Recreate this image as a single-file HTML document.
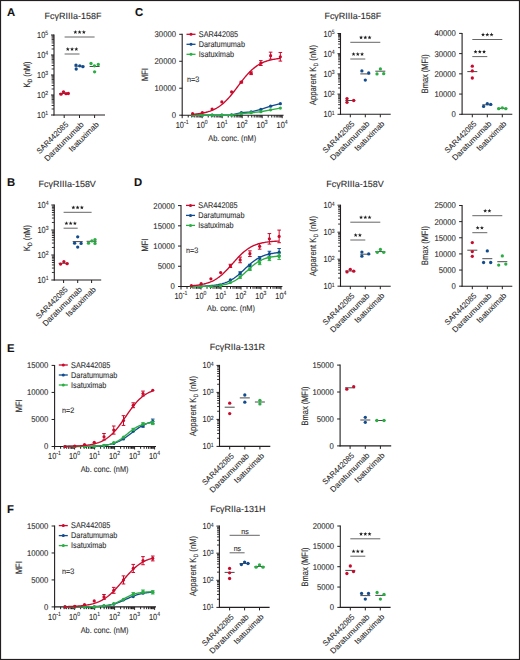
<!DOCTYPE html>
<html><head><meta charset="utf-8"><style>
html,body{margin:0;padding:0;background:#fff;}
body{width:520px;height:660px;overflow:hidden;}
svg{display:block;font-family:"Liberation Sans",sans-serif;text-rendering:geometricPrecision;}
text{stroke:#2b2b2b;stroke-width:0.1px;paint-order:stroke;}
</style></head><body>
<svg width="520" height="660" viewBox="0 0 520 660">
<rect x="0" y="0" width="520" height="660" fill="#fff"/>
<text transform="translate(6.90 15.90)" font-size="11.3" text-anchor="start" fill="#111" font-weight="bold">A</text>
<text transform="translate(135.00 15.70)" font-size="11.3" text-anchor="start" fill="#111" font-weight="bold">C</text>
<text transform="translate(6.90 186.00)" font-size="11.3" text-anchor="start" fill="#111" font-weight="bold">B</text>
<text transform="translate(134.00 186.20)" font-size="11.3" text-anchor="start" fill="#111" font-weight="bold">D</text>
<text transform="translate(7.00 351.50)" font-size="11.3" text-anchor="start" fill="#111" font-weight="bold">E</text>
<text transform="translate(7.00 513.00)" font-size="11.3" text-anchor="start" fill="#111" font-weight="bold">F</text>
<text transform="translate(73.00 19.10) scale(1.01 1)" font-size="8.9" text-anchor="middle" fill="#2b2b2b" font-weight="normal">FcγRIIIa-158F</text>
<line x1="54.00" y1="34.50" x2="54.00" y2="115.50" stroke="#231f20" stroke-width="1.1"/>
<line x1="51.00" y1="115.00" x2="54.00" y2="115.00" stroke="#231f20" stroke-width="1"/>
<text transform="translate(48.20 118.00) scale(0.84 1)" font-size="8.8" text-anchor="end" fill="#2b2b2b">10<tspan font-size="6.1" dy="-2.6">1</tspan></text>
<line x1="51.60" y1="108.98" x2="54.00" y2="108.98" stroke="#231f20" stroke-width="0.9"/>
<line x1="51.60" y1="105.46" x2="54.00" y2="105.46" stroke="#231f20" stroke-width="0.9"/>
<line x1="51.60" y1="102.96" x2="54.00" y2="102.96" stroke="#231f20" stroke-width="0.9"/>
<line x1="51.60" y1="101.02" x2="54.00" y2="101.02" stroke="#231f20" stroke-width="0.9"/>
<line x1="51.60" y1="99.44" x2="54.00" y2="99.44" stroke="#231f20" stroke-width="0.9"/>
<line x1="51.60" y1="98.10" x2="54.00" y2="98.10" stroke="#231f20" stroke-width="0.9"/>
<line x1="51.60" y1="96.94" x2="54.00" y2="96.94" stroke="#231f20" stroke-width="0.9"/>
<line x1="51.60" y1="95.92" x2="54.00" y2="95.92" stroke="#231f20" stroke-width="0.9"/>
<line x1="51.00" y1="95.00" x2="54.00" y2="95.00" stroke="#231f20" stroke-width="1"/>
<text transform="translate(48.20 98.00) scale(0.84 1)" font-size="8.8" text-anchor="end" fill="#2b2b2b">10<tspan font-size="6.1" dy="-2.6">2</tspan></text>
<line x1="51.60" y1="88.98" x2="54.00" y2="88.98" stroke="#231f20" stroke-width="0.9"/>
<line x1="51.60" y1="85.46" x2="54.00" y2="85.46" stroke="#231f20" stroke-width="0.9"/>
<line x1="51.60" y1="82.96" x2="54.00" y2="82.96" stroke="#231f20" stroke-width="0.9"/>
<line x1="51.60" y1="81.02" x2="54.00" y2="81.02" stroke="#231f20" stroke-width="0.9"/>
<line x1="51.60" y1="79.44" x2="54.00" y2="79.44" stroke="#231f20" stroke-width="0.9"/>
<line x1="51.60" y1="78.10" x2="54.00" y2="78.10" stroke="#231f20" stroke-width="0.9"/>
<line x1="51.60" y1="76.94" x2="54.00" y2="76.94" stroke="#231f20" stroke-width="0.9"/>
<line x1="51.60" y1="75.92" x2="54.00" y2="75.92" stroke="#231f20" stroke-width="0.9"/>
<line x1="51.00" y1="75.00" x2="54.00" y2="75.00" stroke="#231f20" stroke-width="1"/>
<text transform="translate(48.20 78.00) scale(0.84 1)" font-size="8.8" text-anchor="end" fill="#2b2b2b">10<tspan font-size="6.1" dy="-2.6">3</tspan></text>
<line x1="51.60" y1="68.98" x2="54.00" y2="68.98" stroke="#231f20" stroke-width="0.9"/>
<line x1="51.60" y1="65.46" x2="54.00" y2="65.46" stroke="#231f20" stroke-width="0.9"/>
<line x1="51.60" y1="62.96" x2="54.00" y2="62.96" stroke="#231f20" stroke-width="0.9"/>
<line x1="51.60" y1="61.02" x2="54.00" y2="61.02" stroke="#231f20" stroke-width="0.9"/>
<line x1="51.60" y1="59.44" x2="54.00" y2="59.44" stroke="#231f20" stroke-width="0.9"/>
<line x1="51.60" y1="58.10" x2="54.00" y2="58.10" stroke="#231f20" stroke-width="0.9"/>
<line x1="51.60" y1="56.94" x2="54.00" y2="56.94" stroke="#231f20" stroke-width="0.9"/>
<line x1="51.60" y1="55.92" x2="54.00" y2="55.92" stroke="#231f20" stroke-width="0.9"/>
<line x1="51.00" y1="55.00" x2="54.00" y2="55.00" stroke="#231f20" stroke-width="1"/>
<text transform="translate(48.20 58.00) scale(0.84 1)" font-size="8.8" text-anchor="end" fill="#2b2b2b">10<tspan font-size="6.1" dy="-2.6">4</tspan></text>
<line x1="51.60" y1="48.98" x2="54.00" y2="48.98" stroke="#231f20" stroke-width="0.9"/>
<line x1="51.60" y1="45.46" x2="54.00" y2="45.46" stroke="#231f20" stroke-width="0.9"/>
<line x1="51.60" y1="42.96" x2="54.00" y2="42.96" stroke="#231f20" stroke-width="0.9"/>
<line x1="51.60" y1="41.02" x2="54.00" y2="41.02" stroke="#231f20" stroke-width="0.9"/>
<line x1="51.60" y1="39.44" x2="54.00" y2="39.44" stroke="#231f20" stroke-width="0.9"/>
<line x1="51.60" y1="38.10" x2="54.00" y2="38.10" stroke="#231f20" stroke-width="0.9"/>
<line x1="51.60" y1="36.94" x2="54.00" y2="36.94" stroke="#231f20" stroke-width="0.9"/>
<line x1="51.60" y1="35.92" x2="54.00" y2="35.92" stroke="#231f20" stroke-width="0.9"/>
<line x1="51.00" y1="35.00" x2="54.00" y2="35.00" stroke="#231f20" stroke-width="1"/>
<text transform="translate(48.20 38.00) scale(0.84 1)" font-size="8.8" text-anchor="end" fill="#2b2b2b">10<tspan font-size="6.1" dy="-2.6">5</tspan></text>
<line x1="53.50" y1="115.00" x2="105.00" y2="115.00" stroke="#231f20" stroke-width="1.1"/>
<line x1="64.20" y1="115.00" x2="64.20" y2="118.00" stroke="#231f20" stroke-width="1"/>
<text transform="translate(68.90 125.00) rotate(-45) scale(0.97 1)" font-size="7.9" text-anchor="end" fill="#2b2b2b" font-weight="normal">SAR442085</text>
<line x1="79.50" y1="115.00" x2="79.50" y2="118.00" stroke="#231f20" stroke-width="1"/>
<text transform="translate(84.20 125.00) rotate(-45) scale(1.04 1)" font-size="7.9" text-anchor="end" fill="#2b2b2b" font-weight="normal">Daratumumab</text>
<line x1="94.60" y1="115.00" x2="94.60" y2="118.00" stroke="#231f20" stroke-width="1"/>
<text transform="translate(99.30 125.00) rotate(-45) scale(1.01 1)" font-size="7.9" text-anchor="end" fill="#2b2b2b" font-weight="normal">Isatuximab</text>
<text transform="translate(29.80 74.50) rotate(-90) scale(0.8 1)" font-size="9.3" text-anchor="middle" fill="#2b2b2b">K<tspan font-size="6.32" dy="2">D</tspan><tspan dy="-2"> (nM)</tspan></text>
<line x1="64.60" y1="37.00" x2="94.60" y2="37.00" stroke="#666" stroke-width="1.0"/>
<polygon points="75.35,30.10 75.88,31.47 77.35,31.55 76.21,32.48 76.58,33.90 75.35,33.10 74.12,33.90 74.49,32.48 73.35,31.55 74.82,31.47" fill="#1e1e1e"/>
<polygon points="79.60,30.10 80.13,31.47 81.60,31.55 80.46,32.48 80.83,33.90 79.60,33.10 78.37,33.90 78.74,32.48 77.60,31.55 79.07,31.47" fill="#1e1e1e"/>
<polygon points="83.85,30.10 84.38,31.47 85.85,31.55 84.71,32.48 85.08,33.90 83.85,33.10 82.62,33.90 82.99,32.48 81.85,31.55 83.32,31.47" fill="#1e1e1e"/>
<line x1="64.60" y1="54.00" x2="79.50" y2="54.00" stroke="#666" stroke-width="1.0"/>
<polygon points="67.80,47.10 68.33,48.47 69.80,48.55 68.66,49.48 69.03,50.90 67.80,50.10 66.57,50.90 66.94,49.48 65.80,48.55 67.27,48.47" fill="#1e1e1e"/>
<polygon points="72.05,47.10 72.58,48.47 74.05,48.55 72.91,49.48 73.28,50.90 72.05,50.10 70.82,50.90 71.19,49.48 70.05,48.55 71.52,48.47" fill="#1e1e1e"/>
<polygon points="76.30,47.10 76.83,48.47 78.30,48.55 77.16,49.48 77.53,50.90 76.30,50.10 75.07,50.90 75.44,49.48 74.30,48.55 75.77,48.47" fill="#1e1e1e"/>
<line x1="59.20" y1="93.50" x2="69.20" y2="93.50" stroke="#4a4a4a" stroke-width="1"/>
<circle cx="61.00" cy="94.20" r="1.65" fill="#c90a2c"/>
<circle cx="63.50" cy="91.80" r="1.65" fill="#c90a2c"/>
<circle cx="66.00" cy="93.70" r="1.65" fill="#c90a2c"/>
<circle cx="68.30" cy="93.50" r="1.65" fill="#c90a2c"/>
<line x1="74.50" y1="66.20" x2="84.50" y2="66.20" stroke="#4a4a4a" stroke-width="1"/>
<circle cx="76.00" cy="65.10" r="1.65" fill="#114c8e"/>
<circle cx="76.20" cy="69.00" r="1.65" fill="#114c8e"/>
<circle cx="79.80" cy="65.80" r="1.65" fill="#114c8e"/>
<circle cx="82.90" cy="66.70" r="1.65" fill="#114c8e"/>
<line x1="89.60" y1="66.50" x2="99.60" y2="66.50" stroke="#4a4a4a" stroke-width="1"/>
<circle cx="91.00" cy="63.50" r="1.65" fill="#2aae43"/>
<circle cx="94.40" cy="65.80" r="1.65" fill="#2aae43"/>
<circle cx="98.30" cy="64.40" r="1.65" fill="#2aae43"/>
<circle cx="94.60" cy="71.80" r="1.65" fill="#2aae43"/>
<text transform="translate(67.20 187.00) scale(1.01 1)" font-size="8.9" text-anchor="middle" fill="#2b2b2b" font-weight="normal">FcγRIIIa-158V</text>
<line x1="54.30" y1="204.50" x2="54.30" y2="280.50" stroke="#231f20" stroke-width="1.1"/>
<line x1="51.30" y1="280.00" x2="54.30" y2="280.00" stroke="#231f20" stroke-width="1"/>
<text transform="translate(48.50 283.00) scale(0.84 1)" font-size="8.8" text-anchor="end" fill="#2b2b2b">10<tspan font-size="6.1" dy="-2.6">1</tspan></text>
<line x1="51.90" y1="272.47" x2="54.30" y2="272.47" stroke="#231f20" stroke-width="0.9"/>
<line x1="51.90" y1="268.07" x2="54.30" y2="268.07" stroke="#231f20" stroke-width="0.9"/>
<line x1="51.90" y1="264.95" x2="54.30" y2="264.95" stroke="#231f20" stroke-width="0.9"/>
<line x1="51.90" y1="262.53" x2="54.30" y2="262.53" stroke="#231f20" stroke-width="0.9"/>
<line x1="51.90" y1="260.55" x2="54.30" y2="260.55" stroke="#231f20" stroke-width="0.9"/>
<line x1="51.90" y1="258.87" x2="54.30" y2="258.87" stroke="#231f20" stroke-width="0.9"/>
<line x1="51.90" y1="257.42" x2="54.30" y2="257.42" stroke="#231f20" stroke-width="0.9"/>
<line x1="51.90" y1="256.14" x2="54.30" y2="256.14" stroke="#231f20" stroke-width="0.9"/>
<line x1="51.30" y1="255.00" x2="54.30" y2="255.00" stroke="#231f20" stroke-width="1"/>
<text transform="translate(48.50 258.00) scale(0.84 1)" font-size="8.8" text-anchor="end" fill="#2b2b2b">10<tspan font-size="6.1" dy="-2.6">2</tspan></text>
<line x1="51.90" y1="247.47" x2="54.30" y2="247.47" stroke="#231f20" stroke-width="0.9"/>
<line x1="51.90" y1="243.07" x2="54.30" y2="243.07" stroke="#231f20" stroke-width="0.9"/>
<line x1="51.90" y1="239.95" x2="54.30" y2="239.95" stroke="#231f20" stroke-width="0.9"/>
<line x1="51.90" y1="237.53" x2="54.30" y2="237.53" stroke="#231f20" stroke-width="0.9"/>
<line x1="51.90" y1="235.55" x2="54.30" y2="235.55" stroke="#231f20" stroke-width="0.9"/>
<line x1="51.90" y1="233.87" x2="54.30" y2="233.87" stroke="#231f20" stroke-width="0.9"/>
<line x1="51.90" y1="232.42" x2="54.30" y2="232.42" stroke="#231f20" stroke-width="0.9"/>
<line x1="51.90" y1="231.14" x2="54.30" y2="231.14" stroke="#231f20" stroke-width="0.9"/>
<line x1="51.30" y1="230.00" x2="54.30" y2="230.00" stroke="#231f20" stroke-width="1"/>
<text transform="translate(48.50 233.00) scale(0.84 1)" font-size="8.8" text-anchor="end" fill="#2b2b2b">10<tspan font-size="6.1" dy="-2.6">3</tspan></text>
<line x1="51.90" y1="222.47" x2="54.30" y2="222.47" stroke="#231f20" stroke-width="0.9"/>
<line x1="51.90" y1="218.07" x2="54.30" y2="218.07" stroke="#231f20" stroke-width="0.9"/>
<line x1="51.90" y1="214.95" x2="54.30" y2="214.95" stroke="#231f20" stroke-width="0.9"/>
<line x1="51.90" y1="212.53" x2="54.30" y2="212.53" stroke="#231f20" stroke-width="0.9"/>
<line x1="51.90" y1="210.55" x2="54.30" y2="210.55" stroke="#231f20" stroke-width="0.9"/>
<line x1="51.90" y1="208.87" x2="54.30" y2="208.87" stroke="#231f20" stroke-width="0.9"/>
<line x1="51.90" y1="207.42" x2="54.30" y2="207.42" stroke="#231f20" stroke-width="0.9"/>
<line x1="51.90" y1="206.14" x2="54.30" y2="206.14" stroke="#231f20" stroke-width="0.9"/>
<line x1="51.30" y1="205.00" x2="54.30" y2="205.00" stroke="#231f20" stroke-width="1"/>
<text transform="translate(48.50 208.00) scale(0.84 1)" font-size="8.8" text-anchor="end" fill="#2b2b2b">10<tspan font-size="6.1" dy="-2.6">4</tspan></text>
<line x1="53.80" y1="280.00" x2="101.20" y2="280.00" stroke="#231f20" stroke-width="1.1"/>
<line x1="63.60" y1="280.00" x2="63.60" y2="283.00" stroke="#231f20" stroke-width="1"/>
<text transform="translate(68.30 290.00) rotate(-45) scale(0.97 1)" font-size="7.9" text-anchor="end" fill="#2b2b2b" font-weight="normal">SAR442085</text>
<line x1="77.70" y1="280.00" x2="77.70" y2="283.00" stroke="#231f20" stroke-width="1"/>
<text transform="translate(82.40 290.00) rotate(-45) scale(1.04 1)" font-size="7.9" text-anchor="end" fill="#2b2b2b" font-weight="normal">Daratumumab</text>
<line x1="91.60" y1="280.00" x2="91.60" y2="283.00" stroke="#231f20" stroke-width="1"/>
<text transform="translate(96.30 290.00) rotate(-45) scale(1.01 1)" font-size="7.9" text-anchor="end" fill="#2b2b2b" font-weight="normal">Isatuximab</text>
<text transform="translate(29.80 238.00) rotate(-90) scale(0.8 1)" font-size="9.3" text-anchor="middle" fill="#2b2b2b">K<tspan font-size="6.32" dy="2">D</tspan><tspan dy="-2"> (nM)</tspan></text>
<line x1="63.60" y1="212.30" x2="91.60" y2="212.30" stroke="#666" stroke-width="1.0"/>
<polygon points="73.35,205.40 73.88,206.77 75.35,206.85 74.21,207.78 74.58,209.20 73.35,208.40 72.12,209.20 72.49,207.78 71.35,206.85 72.82,206.77" fill="#1e1e1e"/>
<polygon points="77.60,205.40 78.13,206.77 79.60,206.85 78.46,207.78 78.83,209.20 77.60,208.40 76.37,209.20 76.74,207.78 75.60,206.85 77.07,206.77" fill="#1e1e1e"/>
<polygon points="81.85,205.40 82.38,206.77 83.85,206.85 82.71,207.78 83.08,209.20 81.85,208.40 80.62,209.20 80.99,207.78 79.85,206.85 81.32,206.77" fill="#1e1e1e"/>
<line x1="63.60" y1="228.20" x2="77.70" y2="228.20" stroke="#666" stroke-width="1.0"/>
<polygon points="66.40,221.30 66.93,222.67 68.40,222.75 67.26,223.68 67.63,225.10 66.40,224.30 65.17,225.10 65.54,223.68 64.40,222.75 65.87,222.67" fill="#1e1e1e"/>
<polygon points="70.65,221.30 71.18,222.67 72.65,222.75 71.51,223.68 71.88,225.10 70.65,224.30 69.42,225.10 69.79,223.68 68.65,222.75 70.12,222.67" fill="#1e1e1e"/>
<polygon points="74.90,221.30 75.43,222.67 76.90,222.75 75.76,223.68 76.13,225.10 74.90,224.30 73.67,225.10 74.04,223.68 72.90,222.75 74.37,222.67" fill="#1e1e1e"/>
<line x1="58.60" y1="263.30" x2="68.60" y2="263.30" stroke="#4a4a4a" stroke-width="1"/>
<circle cx="60.60" cy="264.10" r="1.65" fill="#c90a2c"/>
<circle cx="63.90" cy="261.70" r="1.65" fill="#c90a2c"/>
<circle cx="67.10" cy="263.70" r="1.65" fill="#c90a2c"/>
<line x1="72.70" y1="241.60" x2="82.70" y2="241.60" stroke="#4a4a4a" stroke-width="1"/>
<circle cx="77.70" cy="236.80" r="1.65" fill="#114c8e"/>
<circle cx="74.60" cy="243.20" r="1.65" fill="#114c8e"/>
<circle cx="81.10" cy="243.40" r="1.65" fill="#114c8e"/>
<circle cx="77.70" cy="247.10" r="1.65" fill="#114c8e"/>
<line x1="86.60" y1="241.30" x2="96.60" y2="241.30" stroke="#4a4a4a" stroke-width="1"/>
<circle cx="88.50" cy="243.20" r="1.65" fill="#2aae43"/>
<circle cx="91.90" cy="240.90" r="1.65" fill="#2aae43"/>
<circle cx="95.00" cy="239.60" r="1.65" fill="#2aae43"/>
<circle cx="95.00" cy="243.40" r="1.65" fill="#2aae43"/>
<line x1="182.20" y1="33.80" x2="182.20" y2="115.70" stroke="#231f20" stroke-width="1.1"/>
<line x1="179.20" y1="115.20" x2="182.20" y2="115.20" stroke="#231f20" stroke-width="1"/>
<text transform="translate(176.00 118.10) scale(0.92 1)" font-size="8.4" text-anchor="end" fill="#2b2b2b" font-weight="normal">0</text>
<line x1="179.20" y1="88.23" x2="182.20" y2="88.23" stroke="#231f20" stroke-width="1"/>
<text transform="translate(176.00 91.13) scale(0.92 1)" font-size="8.4" text-anchor="end" fill="#2b2b2b" font-weight="normal">10000</text>
<line x1="179.20" y1="61.27" x2="182.20" y2="61.27" stroke="#231f20" stroke-width="1"/>
<text transform="translate(176.00 64.17) scale(0.92 1)" font-size="8.4" text-anchor="end" fill="#2b2b2b" font-weight="normal">20000</text>
<line x1="179.20" y1="34.30" x2="182.20" y2="34.30" stroke="#231f20" stroke-width="1"/>
<text transform="translate(176.00 37.20) scale(0.92 1)" font-size="8.4" text-anchor="end" fill="#2b2b2b" font-weight="normal">30000</text>
<line x1="181.70" y1="115.20" x2="283.60" y2="115.20" stroke="#231f20" stroke-width="1.1"/>
<line x1="182.20" y1="115.20" x2="182.20" y2="118.20" stroke="#231f20" stroke-width="1"/>
<text transform="translate(182.10 128.00) scale(0.84 1)" font-size="8.8" text-anchor="middle" fill="#2b2b2b">10<tspan font-size="6.1" dy="-4.0">-1</tspan></text>
<line x1="188.22" y1="115.20" x2="188.22" y2="117.50" stroke="#231f20" stroke-width="1.0"/>
<line x1="191.74" y1="115.20" x2="191.74" y2="117.50" stroke="#231f20" stroke-width="1.0"/>
<line x1="194.24" y1="115.20" x2="194.24" y2="117.50" stroke="#231f20" stroke-width="1.0"/>
<line x1="196.18" y1="115.20" x2="196.18" y2="117.50" stroke="#231f20" stroke-width="1.0"/>
<line x1="197.76" y1="115.20" x2="197.76" y2="117.50" stroke="#231f20" stroke-width="1.0"/>
<line x1="199.10" y1="115.20" x2="199.10" y2="117.50" stroke="#231f20" stroke-width="1.0"/>
<line x1="200.26" y1="115.20" x2="200.26" y2="117.50" stroke="#231f20" stroke-width="1.0"/>
<line x1="201.28" y1="115.20" x2="201.28" y2="117.50" stroke="#231f20" stroke-width="1.0"/>
<line x1="202.20" y1="115.20" x2="202.20" y2="118.20" stroke="#231f20" stroke-width="1"/>
<text transform="translate(202.10 128.00) scale(0.84 1)" font-size="8.8" text-anchor="middle" fill="#2b2b2b">10<tspan font-size="6.1" dy="-4.0">0</tspan></text>
<line x1="208.22" y1="115.20" x2="208.22" y2="117.50" stroke="#231f20" stroke-width="1.0"/>
<line x1="211.74" y1="115.20" x2="211.74" y2="117.50" stroke="#231f20" stroke-width="1.0"/>
<line x1="214.24" y1="115.20" x2="214.24" y2="117.50" stroke="#231f20" stroke-width="1.0"/>
<line x1="216.18" y1="115.20" x2="216.18" y2="117.50" stroke="#231f20" stroke-width="1.0"/>
<line x1="217.76" y1="115.20" x2="217.76" y2="117.50" stroke="#231f20" stroke-width="1.0"/>
<line x1="219.10" y1="115.20" x2="219.10" y2="117.50" stroke="#231f20" stroke-width="1.0"/>
<line x1="220.26" y1="115.20" x2="220.26" y2="117.50" stroke="#231f20" stroke-width="1.0"/>
<line x1="221.28" y1="115.20" x2="221.28" y2="117.50" stroke="#231f20" stroke-width="1.0"/>
<line x1="222.20" y1="115.20" x2="222.20" y2="118.20" stroke="#231f20" stroke-width="1"/>
<text transform="translate(222.10 128.00) scale(0.84 1)" font-size="8.8" text-anchor="middle" fill="#2b2b2b">10<tspan font-size="6.1" dy="-4.0">1</tspan></text>
<line x1="228.22" y1="115.20" x2="228.22" y2="117.50" stroke="#231f20" stroke-width="1.0"/>
<line x1="231.74" y1="115.20" x2="231.74" y2="117.50" stroke="#231f20" stroke-width="1.0"/>
<line x1="234.24" y1="115.20" x2="234.24" y2="117.50" stroke="#231f20" stroke-width="1.0"/>
<line x1="236.18" y1="115.20" x2="236.18" y2="117.50" stroke="#231f20" stroke-width="1.0"/>
<line x1="237.76" y1="115.20" x2="237.76" y2="117.50" stroke="#231f20" stroke-width="1.0"/>
<line x1="239.10" y1="115.20" x2="239.10" y2="117.50" stroke="#231f20" stroke-width="1.0"/>
<line x1="240.26" y1="115.20" x2="240.26" y2="117.50" stroke="#231f20" stroke-width="1.0"/>
<line x1="241.28" y1="115.20" x2="241.28" y2="117.50" stroke="#231f20" stroke-width="1.0"/>
<line x1="242.20" y1="115.20" x2="242.20" y2="118.20" stroke="#231f20" stroke-width="1"/>
<text transform="translate(242.10 128.00) scale(0.84 1)" font-size="8.8" text-anchor="middle" fill="#2b2b2b">10<tspan font-size="6.1" dy="-4.0">2</tspan></text>
<line x1="248.22" y1="115.20" x2="248.22" y2="117.50" stroke="#231f20" stroke-width="1.0"/>
<line x1="251.74" y1="115.20" x2="251.74" y2="117.50" stroke="#231f20" stroke-width="1.0"/>
<line x1="254.24" y1="115.20" x2="254.24" y2="117.50" stroke="#231f20" stroke-width="1.0"/>
<line x1="256.18" y1="115.20" x2="256.18" y2="117.50" stroke="#231f20" stroke-width="1.0"/>
<line x1="257.76" y1="115.20" x2="257.76" y2="117.50" stroke="#231f20" stroke-width="1.0"/>
<line x1="259.10" y1="115.20" x2="259.10" y2="117.50" stroke="#231f20" stroke-width="1.0"/>
<line x1="260.26" y1="115.20" x2="260.26" y2="117.50" stroke="#231f20" stroke-width="1.0"/>
<line x1="261.28" y1="115.20" x2="261.28" y2="117.50" stroke="#231f20" stroke-width="1.0"/>
<line x1="262.20" y1="115.20" x2="262.20" y2="118.20" stroke="#231f20" stroke-width="1"/>
<text transform="translate(262.10 128.00) scale(0.84 1)" font-size="8.8" text-anchor="middle" fill="#2b2b2b">10<tspan font-size="6.1" dy="-4.0">3</tspan></text>
<line x1="268.22" y1="115.20" x2="268.22" y2="117.50" stroke="#231f20" stroke-width="1.0"/>
<line x1="271.74" y1="115.20" x2="271.74" y2="117.50" stroke="#231f20" stroke-width="1.0"/>
<line x1="274.24" y1="115.20" x2="274.24" y2="117.50" stroke="#231f20" stroke-width="1.0"/>
<line x1="276.18" y1="115.20" x2="276.18" y2="117.50" stroke="#231f20" stroke-width="1.0"/>
<line x1="277.76" y1="115.20" x2="277.76" y2="117.50" stroke="#231f20" stroke-width="1.0"/>
<line x1="279.10" y1="115.20" x2="279.10" y2="117.50" stroke="#231f20" stroke-width="1.0"/>
<line x1="280.26" y1="115.20" x2="280.26" y2="117.50" stroke="#231f20" stroke-width="1.0"/>
<line x1="281.28" y1="115.20" x2="281.28" y2="117.50" stroke="#231f20" stroke-width="1.0"/>
<line x1="282.20" y1="115.20" x2="282.20" y2="118.20" stroke="#231f20" stroke-width="1"/>
<text transform="translate(282.10 128.00) scale(0.84 1)" font-size="8.8" text-anchor="middle" fill="#2b2b2b">10<tspan font-size="6.1" dy="-4.0">4</tspan></text>
<text transform="translate(232.20 141.00) scale(0.88 1)" font-size="8.4" text-anchor="middle" fill="#2b2b2b" font-weight="normal">Ab. conc. (nM)</text>
<polyline points="192.60,115.20 202.35,115.20 212.10,115.20 221.85,115.07 231.60,114.80 241.35,112.71 251.10,111.90 260.85,109.41 270.60,106.21 280.35,103.71" fill="none" stroke="#114c8e" stroke-width="1.35"/>
<circle cx="192.60" cy="115.20" r="1.6" fill="#114c8e"/>
<circle cx="202.35" cy="115.20" r="1.6" fill="#114c8e"/>
<circle cx="212.10" cy="115.20" r="1.6" fill="#114c8e"/>
<circle cx="221.85" cy="115.07" r="1.6" fill="#114c8e"/>
<circle cx="231.60" cy="114.80" r="1.6" fill="#114c8e"/>
<circle cx="241.35" cy="112.71" r="1.6" fill="#114c8e"/>
<circle cx="251.10" cy="111.90" r="1.6" fill="#114c8e"/>
<circle cx="260.85" cy="109.41" r="1.6" fill="#114c8e"/>
<circle cx="270.60" cy="106.21" r="1.6" fill="#114c8e"/>
<circle cx="280.35" cy="103.71" r="1.6" fill="#114c8e"/>
<polyline points="192.60,115.20 202.35,115.20 212.10,115.20 221.85,115.20 231.60,115.20 241.35,113.70 251.10,112.71 260.85,111.71 270.60,109.81 280.35,108.11" fill="none" stroke="#2aae43" stroke-width="1.35"/>
<circle cx="192.60" cy="115.20" r="1.6" fill="#2aae43"/>
<circle cx="202.35" cy="115.20" r="1.6" fill="#2aae43"/>
<circle cx="212.10" cy="115.20" r="1.6" fill="#2aae43"/>
<circle cx="221.85" cy="115.20" r="1.6" fill="#2aae43"/>
<circle cx="231.60" cy="115.20" r="1.6" fill="#2aae43"/>
<circle cx="241.35" cy="113.70" r="1.6" fill="#2aae43"/>
<circle cx="251.10" cy="112.71" r="1.6" fill="#2aae43"/>
<circle cx="260.85" cy="111.71" r="1.6" fill="#2aae43"/>
<circle cx="270.60" cy="109.81" r="1.6" fill="#2aae43"/>
<circle cx="280.35" cy="108.11" r="1.6" fill="#2aae43"/>
<polyline points="192.20,114.36 193.20,114.28 194.20,114.19 195.20,114.10 196.20,113.99 197.20,113.88 198.20,113.75 199.20,113.62 200.20,113.47 201.20,113.31 202.20,113.13 203.20,112.94 204.20,112.73 205.20,112.50 206.20,112.26 207.20,111.99 208.20,111.70 209.20,111.38 210.20,111.04 211.20,110.67 212.20,110.27 213.20,109.84 214.20,109.38 215.20,108.87 216.20,108.34 217.20,107.76 218.20,107.14 219.20,106.48 220.20,105.78 221.20,105.03 222.20,104.23 223.20,103.39 224.20,102.50 225.20,101.56 226.20,100.58 227.20,99.55 228.20,98.47 229.20,97.36 230.20,96.20 231.20,95.00 232.20,93.77 233.20,92.52 234.20,91.23 235.20,89.93 236.20,88.61 237.20,87.28 238.20,85.94 239.20,84.61 240.20,83.28 241.20,81.97 242.20,80.67 243.20,79.40 244.20,78.15 245.20,76.94 246.20,75.76 247.20,74.61 248.20,73.51 249.20,72.46 250.20,71.45 251.20,70.48 252.20,69.56 253.20,68.69 254.20,67.87 255.20,67.09 256.20,66.36 257.20,65.67 258.20,65.03 259.20,64.43 260.20,63.87 261.20,63.34 262.20,62.86 263.20,62.40 264.20,61.99 265.20,61.60 266.20,61.24 267.20,60.91 268.20,60.60 269.20,60.32 270.20,60.06 271.20,59.82 272.20,59.60 273.20,59.40 274.20,59.22 275.20,59.05 276.20,58.89 277.20,58.75 278.20,58.62 279.20,58.50 280.20,58.39" fill="none" stroke="#c90a2c" stroke-width="1.35"/>
<circle cx="192.60" cy="113.70" r="1.6" fill="#c90a2c"/>
<circle cx="202.35" cy="112.60" r="1.6" fill="#c90a2c"/>
<circle cx="212.10" cy="109.01" r="1.6" fill="#c90a2c"/>
<circle cx="221.85" cy="101.92" r="1.6" fill="#c90a2c"/>
<circle cx="231.60" cy="91.93" r="1.6" fill="#c90a2c"/>
<line x1="241.35" y1="81.33" x2="241.35" y2="82.95" stroke="#c90a2c" stroke-width="1.0"/>
<line x1="239.55" y1="81.33" x2="243.15" y2="81.33" stroke="#c90a2c" stroke-width="1.0"/>
<line x1="239.55" y1="82.95" x2="243.15" y2="82.95" stroke="#c90a2c" stroke-width="1.0"/>
<circle cx="241.35" cy="82.14" r="1.6" fill="#c90a2c"/>
<line x1="251.10" y1="71.91" x2="251.10" y2="74.60" stroke="#c90a2c" stroke-width="1.0"/>
<line x1="249.30" y1="71.91" x2="252.90" y2="71.91" stroke="#c90a2c" stroke-width="1.0"/>
<line x1="249.30" y1="74.60" x2="252.90" y2="74.60" stroke="#c90a2c" stroke-width="1.0"/>
<circle cx="251.10" cy="73.25" r="1.6" fill="#c90a2c"/>
<line x1="260.85" y1="60.64" x2="260.85" y2="65.49" stroke="#c90a2c" stroke-width="1.0"/>
<line x1="259.05" y1="60.64" x2="262.65" y2="60.64" stroke="#c90a2c" stroke-width="1.0"/>
<line x1="259.05" y1="65.49" x2="262.65" y2="65.49" stroke="#c90a2c" stroke-width="1.0"/>
<circle cx="260.85" cy="63.07" r="1.6" fill="#c90a2c"/>
<line x1="270.60" y1="52.17" x2="270.60" y2="59.18" stroke="#c90a2c" stroke-width="1.0"/>
<line x1="268.80" y1="52.17" x2="272.40" y2="52.17" stroke="#c90a2c" stroke-width="1.0"/>
<line x1="268.80" y1="59.18" x2="272.40" y2="59.18" stroke="#c90a2c" stroke-width="1.0"/>
<circle cx="270.60" cy="55.67" r="1.6" fill="#c90a2c"/>
<line x1="280.35" y1="52.46" x2="280.35" y2="61.09" stroke="#c90a2c" stroke-width="1.0"/>
<line x1="278.55" y1="52.46" x2="282.15" y2="52.46" stroke="#c90a2c" stroke-width="1.0"/>
<line x1="278.55" y1="61.09" x2="282.15" y2="61.09" stroke="#c90a2c" stroke-width="1.0"/>
<circle cx="280.35" cy="56.77" r="1.6" fill="#c90a2c"/>
<line x1="186.50" y1="34.30" x2="195.50" y2="34.30" stroke="#c90a2c" stroke-width="1.3"/>
<circle cx="191.00" cy="34.30" r="1.5" fill="#c90a2c"/>
<text transform="translate(198.80 36.90) scale(0.87 1)" font-size="8.4" text-anchor="start" fill="#2b2b2b" font-weight="normal">SAR442085</text>
<line x1="186.50" y1="44.30" x2="195.50" y2="44.30" stroke="#114c8e" stroke-width="1.3"/>
<circle cx="191.00" cy="44.30" r="1.5" fill="#114c8e"/>
<text transform="translate(198.80 46.90) scale(0.87 1)" font-size="8.4" text-anchor="start" fill="#2b2b2b" font-weight="normal">Daratumumab</text>
<line x1="186.50" y1="54.30" x2="195.50" y2="54.30" stroke="#2aae43" stroke-width="1.3"/>
<circle cx="191.00" cy="54.30" r="1.5" fill="#2aae43"/>
<text transform="translate(198.80 56.90) scale(0.87 1)" font-size="8.4" text-anchor="start" fill="#2b2b2b" font-weight="normal">Isatuximab</text>
<text transform="translate(187.00 82.00) scale(0.92 1)" font-size="7.9" text-anchor="start" fill="#2b2b2b" font-weight="normal">n=3</text>
<text transform="translate(147.50 74.50) rotate(-90) scale(0.8 1)" font-size="9.3" text-anchor="middle" fill="#2b2b2b" font-weight="normal">MFI</text>
<text transform="translate(352.80 19.10) scale(1.01 1)" font-size="8.9" text-anchor="middle" fill="#2b2b2b" font-weight="normal">FcγRIIIa-158F</text>
<line x1="340.50" y1="33.00" x2="340.50" y2="114.80" stroke="#231f20" stroke-width="1.1"/>
<line x1="337.50" y1="114.30" x2="340.50" y2="114.30" stroke="#231f20" stroke-width="1"/>
<text transform="translate(334.70 117.30) scale(0.84 1)" font-size="8.8" text-anchor="end" fill="#2b2b2b">10<tspan font-size="6.1" dy="-2.6">1</tspan></text>
<line x1="338.10" y1="108.22" x2="340.50" y2="108.22" stroke="#231f20" stroke-width="0.9"/>
<line x1="338.10" y1="104.66" x2="340.50" y2="104.66" stroke="#231f20" stroke-width="0.9"/>
<line x1="338.10" y1="102.14" x2="340.50" y2="102.14" stroke="#231f20" stroke-width="0.9"/>
<line x1="338.10" y1="100.18" x2="340.50" y2="100.18" stroke="#231f20" stroke-width="0.9"/>
<line x1="338.10" y1="98.58" x2="340.50" y2="98.58" stroke="#231f20" stroke-width="0.9"/>
<line x1="338.10" y1="97.23" x2="340.50" y2="97.23" stroke="#231f20" stroke-width="0.9"/>
<line x1="338.10" y1="96.06" x2="340.50" y2="96.06" stroke="#231f20" stroke-width="0.9"/>
<line x1="338.10" y1="95.02" x2="340.50" y2="95.02" stroke="#231f20" stroke-width="0.9"/>
<line x1="337.50" y1="94.10" x2="340.50" y2="94.10" stroke="#231f20" stroke-width="1"/>
<text transform="translate(334.70 97.10) scale(0.84 1)" font-size="8.8" text-anchor="end" fill="#2b2b2b">10<tspan font-size="6.1" dy="-2.6">2</tspan></text>
<line x1="338.10" y1="88.02" x2="340.50" y2="88.02" stroke="#231f20" stroke-width="0.9"/>
<line x1="338.10" y1="84.46" x2="340.50" y2="84.46" stroke="#231f20" stroke-width="0.9"/>
<line x1="338.10" y1="81.94" x2="340.50" y2="81.94" stroke="#231f20" stroke-width="0.9"/>
<line x1="338.10" y1="79.98" x2="340.50" y2="79.98" stroke="#231f20" stroke-width="0.9"/>
<line x1="338.10" y1="78.38" x2="340.50" y2="78.38" stroke="#231f20" stroke-width="0.9"/>
<line x1="338.10" y1="77.03" x2="340.50" y2="77.03" stroke="#231f20" stroke-width="0.9"/>
<line x1="338.10" y1="75.86" x2="340.50" y2="75.86" stroke="#231f20" stroke-width="0.9"/>
<line x1="338.10" y1="74.82" x2="340.50" y2="74.82" stroke="#231f20" stroke-width="0.9"/>
<line x1="337.50" y1="73.90" x2="340.50" y2="73.90" stroke="#231f20" stroke-width="1"/>
<text transform="translate(334.70 76.90) scale(0.84 1)" font-size="8.8" text-anchor="end" fill="#2b2b2b">10<tspan font-size="6.1" dy="-2.6">3</tspan></text>
<line x1="338.10" y1="67.82" x2="340.50" y2="67.82" stroke="#231f20" stroke-width="0.9"/>
<line x1="338.10" y1="64.26" x2="340.50" y2="64.26" stroke="#231f20" stroke-width="0.9"/>
<line x1="338.10" y1="61.74" x2="340.50" y2="61.74" stroke="#231f20" stroke-width="0.9"/>
<line x1="338.10" y1="59.78" x2="340.50" y2="59.78" stroke="#231f20" stroke-width="0.9"/>
<line x1="338.10" y1="58.18" x2="340.50" y2="58.18" stroke="#231f20" stroke-width="0.9"/>
<line x1="338.10" y1="56.83" x2="340.50" y2="56.83" stroke="#231f20" stroke-width="0.9"/>
<line x1="338.10" y1="55.66" x2="340.50" y2="55.66" stroke="#231f20" stroke-width="0.9"/>
<line x1="338.10" y1="54.62" x2="340.50" y2="54.62" stroke="#231f20" stroke-width="0.9"/>
<line x1="337.50" y1="53.70" x2="340.50" y2="53.70" stroke="#231f20" stroke-width="1"/>
<text transform="translate(334.70 56.70) scale(0.84 1)" font-size="8.8" text-anchor="end" fill="#2b2b2b">10<tspan font-size="6.1" dy="-2.6">4</tspan></text>
<line x1="338.10" y1="47.62" x2="340.50" y2="47.62" stroke="#231f20" stroke-width="0.9"/>
<line x1="338.10" y1="44.06" x2="340.50" y2="44.06" stroke="#231f20" stroke-width="0.9"/>
<line x1="338.10" y1="41.54" x2="340.50" y2="41.54" stroke="#231f20" stroke-width="0.9"/>
<line x1="338.10" y1="39.58" x2="340.50" y2="39.58" stroke="#231f20" stroke-width="0.9"/>
<line x1="338.10" y1="37.98" x2="340.50" y2="37.98" stroke="#231f20" stroke-width="0.9"/>
<line x1="338.10" y1="36.63" x2="340.50" y2="36.63" stroke="#231f20" stroke-width="0.9"/>
<line x1="338.10" y1="35.46" x2="340.50" y2="35.46" stroke="#231f20" stroke-width="0.9"/>
<line x1="338.10" y1="34.42" x2="340.50" y2="34.42" stroke="#231f20" stroke-width="0.9"/>
<line x1="337.50" y1="33.50" x2="340.50" y2="33.50" stroke="#231f20" stroke-width="1"/>
<text transform="translate(334.70 36.50) scale(0.84 1)" font-size="8.8" text-anchor="end" fill="#2b2b2b">10<tspan font-size="6.1" dy="-2.6">5</tspan></text>
<line x1="340.00" y1="114.30" x2="390.70" y2="114.30" stroke="#231f20" stroke-width="1.1"/>
<line x1="350.30" y1="114.30" x2="350.30" y2="117.30" stroke="#231f20" stroke-width="1"/>
<text transform="translate(355.00 124.30) rotate(-45) scale(0.97 1)" font-size="7.9" text-anchor="end" fill="#2b2b2b" font-weight="normal">SAR442085</text>
<line x1="365.30" y1="114.30" x2="365.30" y2="117.30" stroke="#231f20" stroke-width="1"/>
<text transform="translate(370.00 124.30) rotate(-45) scale(1.04 1)" font-size="7.9" text-anchor="end" fill="#2b2b2b" font-weight="normal">Daratumumab</text>
<line x1="380.30" y1="114.30" x2="380.30" y2="117.30" stroke="#231f20" stroke-width="1"/>
<text transform="translate(385.00 124.30) rotate(-45) scale(1.01 1)" font-size="7.9" text-anchor="end" fill="#2b2b2b" font-weight="normal">Isatuximab</text>
<text transform="translate(315.50 75.00) rotate(-90) scale(0.83 1)" font-size="9.3" text-anchor="middle" fill="#2b2b2b">Apparent K<tspan font-size="6.32" dy="2">D</tspan><tspan dy="-2"> (nM)</tspan></text>
<line x1="350.30" y1="42.30" x2="380.30" y2="42.30" stroke="#666" stroke-width="1.0"/>
<polygon points="361.05,35.40 361.58,36.77 363.05,36.85 361.91,37.78 362.28,39.20 361.05,38.40 359.82,39.20 360.19,37.78 359.05,36.85 360.52,36.77" fill="#1e1e1e"/>
<polygon points="365.30,35.40 365.83,36.77 367.30,36.85 366.16,37.78 366.53,39.20 365.30,38.40 364.07,39.20 364.44,37.78 363.30,36.85 364.77,36.77" fill="#1e1e1e"/>
<polygon points="369.55,35.40 370.08,36.77 371.55,36.85 370.41,37.78 370.78,39.20 369.55,38.40 368.32,39.20 368.69,37.78 367.55,36.85 369.02,36.77" fill="#1e1e1e"/>
<line x1="350.30" y1="59.00" x2="365.30" y2="59.00" stroke="#666" stroke-width="1.0"/>
<polygon points="353.55,52.10 354.08,53.47 355.55,53.55 354.41,54.48 354.78,55.90 353.55,55.10 352.32,55.90 352.69,54.48 351.55,53.55 353.02,53.47" fill="#1e1e1e"/>
<polygon points="357.80,52.10 358.33,53.47 359.80,53.55 358.66,54.48 359.03,55.90 357.80,55.10 356.57,55.90 356.94,54.48 355.80,53.55 357.27,53.47" fill="#1e1e1e"/>
<polygon points="362.05,52.10 362.58,53.47 364.05,53.55 362.91,54.48 363.28,55.90 362.05,55.10 360.82,55.90 361.19,54.48 360.05,53.55 361.52,53.47" fill="#1e1e1e"/>
<line x1="345.30" y1="100.50" x2="355.30" y2="100.50" stroke="#4a4a4a" stroke-width="1"/>
<circle cx="347.00" cy="98.60" r="1.65" fill="#c90a2c"/>
<circle cx="347.00" cy="102.30" r="1.65" fill="#c90a2c"/>
<circle cx="353.70" cy="100.50" r="1.65" fill="#c90a2c"/>
<line x1="360.30" y1="73.90" x2="370.30" y2="73.90" stroke="#4a4a4a" stroke-width="1"/>
<circle cx="361.90" cy="70.90" r="1.65" fill="#114c8e"/>
<circle cx="368.70" cy="73.00" r="1.65" fill="#114c8e"/>
<circle cx="365.30" cy="80.10" r="1.65" fill="#114c8e"/>
<line x1="375.30" y1="71.20" x2="385.30" y2="71.20" stroke="#4a4a4a" stroke-width="1"/>
<circle cx="380.40" cy="68.90" r="1.65" fill="#2aae43"/>
<circle cx="377.00" cy="73.90" r="1.65" fill="#2aae43"/>
<circle cx="383.70" cy="73.70" r="1.65" fill="#2aae43"/>
<line x1="462.10" y1="32.90" x2="462.10" y2="114.80" stroke="#231f20" stroke-width="1.1"/>
<line x1="459.10" y1="114.30" x2="462.10" y2="114.30" stroke="#231f20" stroke-width="1"/>
<text transform="translate(455.90 117.20) scale(0.92 1)" font-size="8.4" text-anchor="end" fill="#2b2b2b" font-weight="normal">0</text>
<line x1="459.10" y1="94.07" x2="462.10" y2="94.07" stroke="#231f20" stroke-width="1"/>
<text transform="translate(455.90 96.97) scale(0.92 1)" font-size="8.4" text-anchor="end" fill="#2b2b2b" font-weight="normal">10000</text>
<line x1="459.10" y1="73.85" x2="462.10" y2="73.85" stroke="#231f20" stroke-width="1"/>
<text transform="translate(455.90 76.75) scale(0.92 1)" font-size="8.4" text-anchor="end" fill="#2b2b2b" font-weight="normal">20000</text>
<line x1="459.10" y1="53.62" x2="462.10" y2="53.62" stroke="#231f20" stroke-width="1"/>
<text transform="translate(455.90 56.52) scale(0.92 1)" font-size="8.4" text-anchor="end" fill="#2b2b2b" font-weight="normal">30000</text>
<line x1="459.10" y1="33.40" x2="462.10" y2="33.40" stroke="#231f20" stroke-width="1"/>
<text transform="translate(455.90 36.30) scale(0.92 1)" font-size="8.4" text-anchor="end" fill="#2b2b2b" font-weight="normal">40000</text>
<line x1="461.60" y1="114.30" x2="512.30" y2="114.30" stroke="#231f20" stroke-width="1.1"/>
<line x1="472.30" y1="114.30" x2="472.30" y2="117.30" stroke="#231f20" stroke-width="1"/>
<text transform="translate(477.00 124.30) rotate(-45) scale(0.97 1)" font-size="7.9" text-anchor="end" fill="#2b2b2b" font-weight="normal">SAR442085</text>
<line x1="487.30" y1="114.30" x2="487.30" y2="117.30" stroke="#231f20" stroke-width="1"/>
<text transform="translate(492.00 124.30) rotate(-45) scale(1.04 1)" font-size="7.9" text-anchor="end" fill="#2b2b2b" font-weight="normal">Daratumumab</text>
<line x1="502.30" y1="114.30" x2="502.30" y2="117.30" stroke="#231f20" stroke-width="1"/>
<text transform="translate(507.00 124.30) rotate(-45) scale(1.01 1)" font-size="7.9" text-anchor="end" fill="#2b2b2b" font-weight="normal">Isatuximab</text>
<text transform="translate(428.00 73.80) rotate(-90) scale(0.8 1)" font-size="9.3" text-anchor="middle" fill="#2b2b2b" font-weight="normal">Bmax (MFI)</text>
<line x1="472.30" y1="39.50" x2="502.30" y2="39.50" stroke="#666" stroke-width="1.0"/>
<polygon points="483.05,32.60 483.58,33.97 485.05,34.05 483.91,34.98 484.28,36.40 483.05,35.60 481.82,36.40 482.19,34.98 481.05,34.05 482.52,33.97" fill="#1e1e1e"/>
<polygon points="487.30,32.60 487.83,33.97 489.30,34.05 488.16,34.98 488.53,36.40 487.30,35.60 486.07,36.40 486.44,34.98 485.30,34.05 486.77,33.97" fill="#1e1e1e"/>
<polygon points="491.55,32.60 492.08,33.97 493.55,34.05 492.41,34.98 492.78,36.40 491.55,35.60 490.32,36.40 490.69,34.98 489.55,34.05 491.02,33.97" fill="#1e1e1e"/>
<line x1="472.30" y1="56.60" x2="487.30" y2="56.60" stroke="#666" stroke-width="1.0"/>
<polygon points="475.55,49.70 476.08,51.07 477.55,51.15 476.41,52.08 476.78,53.50 475.55,52.70 474.32,53.50 474.69,52.08 473.55,51.15 475.02,51.07" fill="#1e1e1e"/>
<polygon points="479.80,49.70 480.33,51.07 481.80,51.15 480.66,52.08 481.03,53.50 479.80,52.70 478.57,53.50 478.94,52.08 477.80,51.15 479.27,51.07" fill="#1e1e1e"/>
<polygon points="484.05,49.70 484.58,51.07 486.05,51.15 484.91,52.08 485.28,53.50 484.05,52.70 482.82,53.50 483.19,52.08 482.05,51.15 483.52,51.07" fill="#1e1e1e"/>
<line x1="467.30" y1="71.60" x2="477.30" y2="71.60" stroke="#4a4a4a" stroke-width="1"/>
<circle cx="472.30" cy="66.20" r="1.65" fill="#c90a2c"/>
<circle cx="472.30" cy="70.90" r="1.65" fill="#c90a2c"/>
<circle cx="472.30" cy="78.00" r="1.65" fill="#c90a2c"/>
<line x1="482.30" y1="104.80" x2="492.30" y2="104.80" stroke="#4a4a4a" stroke-width="1"/>
<circle cx="483.60" cy="106.40" r="1.65" fill="#114c8e"/>
<circle cx="487.30" cy="103.70" r="1.65" fill="#114c8e"/>
<circle cx="490.70" cy="104.40" r="1.65" fill="#114c8e"/>
<line x1="497.30" y1="108.40" x2="507.30" y2="108.40" stroke="#4a4a4a" stroke-width="1"/>
<circle cx="498.70" cy="108.70" r="1.65" fill="#2aae43"/>
<circle cx="502.30" cy="107.80" r="1.65" fill="#2aae43"/>
<circle cx="505.80" cy="108.70" r="1.65" fill="#2aae43"/>
<line x1="181.00" y1="205.10" x2="181.00" y2="287.00" stroke="#231f20" stroke-width="1.1"/>
<line x1="178.00" y1="286.50" x2="181.00" y2="286.50" stroke="#231f20" stroke-width="1"/>
<text transform="translate(174.80 289.40) scale(0.92 1)" font-size="8.4" text-anchor="end" fill="#2b2b2b" font-weight="normal">0</text>
<line x1="178.00" y1="266.27" x2="181.00" y2="266.27" stroke="#231f20" stroke-width="1"/>
<text transform="translate(174.80 269.17) scale(0.92 1)" font-size="8.4" text-anchor="end" fill="#2b2b2b" font-weight="normal">5000</text>
<line x1="178.00" y1="246.05" x2="181.00" y2="246.05" stroke="#231f20" stroke-width="1"/>
<text transform="translate(174.80 248.95) scale(0.92 1)" font-size="8.4" text-anchor="end" fill="#2b2b2b" font-weight="normal">10000</text>
<line x1="178.00" y1="225.82" x2="181.00" y2="225.82" stroke="#231f20" stroke-width="1"/>
<text transform="translate(174.80 228.72) scale(0.92 1)" font-size="8.4" text-anchor="end" fill="#2b2b2b" font-weight="normal">15000</text>
<line x1="178.00" y1="205.60" x2="181.00" y2="205.60" stroke="#231f20" stroke-width="1"/>
<text transform="translate(174.80 208.50) scale(0.92 1)" font-size="8.4" text-anchor="end" fill="#2b2b2b" font-weight="normal">20000</text>
<line x1="180.50" y1="286.50" x2="282.40" y2="286.50" stroke="#231f20" stroke-width="1.1"/>
<line x1="181.00" y1="286.50" x2="181.00" y2="289.50" stroke="#231f20" stroke-width="1"/>
<text transform="translate(180.90 299.30) scale(0.84 1)" font-size="8.8" text-anchor="middle" fill="#2b2b2b">10<tspan font-size="6.1" dy="-4.0">-1</tspan></text>
<line x1="187.02" y1="286.50" x2="187.02" y2="288.80" stroke="#231f20" stroke-width="1.0"/>
<line x1="190.54" y1="286.50" x2="190.54" y2="288.80" stroke="#231f20" stroke-width="1.0"/>
<line x1="193.04" y1="286.50" x2="193.04" y2="288.80" stroke="#231f20" stroke-width="1.0"/>
<line x1="194.98" y1="286.50" x2="194.98" y2="288.80" stroke="#231f20" stroke-width="1.0"/>
<line x1="196.56" y1="286.50" x2="196.56" y2="288.80" stroke="#231f20" stroke-width="1.0"/>
<line x1="197.90" y1="286.50" x2="197.90" y2="288.80" stroke="#231f20" stroke-width="1.0"/>
<line x1="199.06" y1="286.50" x2="199.06" y2="288.80" stroke="#231f20" stroke-width="1.0"/>
<line x1="200.08" y1="286.50" x2="200.08" y2="288.80" stroke="#231f20" stroke-width="1.0"/>
<line x1="201.00" y1="286.50" x2="201.00" y2="289.50" stroke="#231f20" stroke-width="1"/>
<text transform="translate(200.90 299.30) scale(0.84 1)" font-size="8.8" text-anchor="middle" fill="#2b2b2b">10<tspan font-size="6.1" dy="-4.0">0</tspan></text>
<line x1="207.02" y1="286.50" x2="207.02" y2="288.80" stroke="#231f20" stroke-width="1.0"/>
<line x1="210.54" y1="286.50" x2="210.54" y2="288.80" stroke="#231f20" stroke-width="1.0"/>
<line x1="213.04" y1="286.50" x2="213.04" y2="288.80" stroke="#231f20" stroke-width="1.0"/>
<line x1="214.98" y1="286.50" x2="214.98" y2="288.80" stroke="#231f20" stroke-width="1.0"/>
<line x1="216.56" y1="286.50" x2="216.56" y2="288.80" stroke="#231f20" stroke-width="1.0"/>
<line x1="217.90" y1="286.50" x2="217.90" y2="288.80" stroke="#231f20" stroke-width="1.0"/>
<line x1="219.06" y1="286.50" x2="219.06" y2="288.80" stroke="#231f20" stroke-width="1.0"/>
<line x1="220.08" y1="286.50" x2="220.08" y2="288.80" stroke="#231f20" stroke-width="1.0"/>
<line x1="221.00" y1="286.50" x2="221.00" y2="289.50" stroke="#231f20" stroke-width="1"/>
<text transform="translate(220.90 299.30) scale(0.84 1)" font-size="8.8" text-anchor="middle" fill="#2b2b2b">10<tspan font-size="6.1" dy="-4.0">1</tspan></text>
<line x1="227.02" y1="286.50" x2="227.02" y2="288.80" stroke="#231f20" stroke-width="1.0"/>
<line x1="230.54" y1="286.50" x2="230.54" y2="288.80" stroke="#231f20" stroke-width="1.0"/>
<line x1="233.04" y1="286.50" x2="233.04" y2="288.80" stroke="#231f20" stroke-width="1.0"/>
<line x1="234.98" y1="286.50" x2="234.98" y2="288.80" stroke="#231f20" stroke-width="1.0"/>
<line x1="236.56" y1="286.50" x2="236.56" y2="288.80" stroke="#231f20" stroke-width="1.0"/>
<line x1="237.90" y1="286.50" x2="237.90" y2="288.80" stroke="#231f20" stroke-width="1.0"/>
<line x1="239.06" y1="286.50" x2="239.06" y2="288.80" stroke="#231f20" stroke-width="1.0"/>
<line x1="240.08" y1="286.50" x2="240.08" y2="288.80" stroke="#231f20" stroke-width="1.0"/>
<line x1="241.00" y1="286.50" x2="241.00" y2="289.50" stroke="#231f20" stroke-width="1"/>
<text transform="translate(240.90 299.30) scale(0.84 1)" font-size="8.8" text-anchor="middle" fill="#2b2b2b">10<tspan font-size="6.1" dy="-4.0">2</tspan></text>
<line x1="247.02" y1="286.50" x2="247.02" y2="288.80" stroke="#231f20" stroke-width="1.0"/>
<line x1="250.54" y1="286.50" x2="250.54" y2="288.80" stroke="#231f20" stroke-width="1.0"/>
<line x1="253.04" y1="286.50" x2="253.04" y2="288.80" stroke="#231f20" stroke-width="1.0"/>
<line x1="254.98" y1="286.50" x2="254.98" y2="288.80" stroke="#231f20" stroke-width="1.0"/>
<line x1="256.56" y1="286.50" x2="256.56" y2="288.80" stroke="#231f20" stroke-width="1.0"/>
<line x1="257.90" y1="286.50" x2="257.90" y2="288.80" stroke="#231f20" stroke-width="1.0"/>
<line x1="259.06" y1="286.50" x2="259.06" y2="288.80" stroke="#231f20" stroke-width="1.0"/>
<line x1="260.08" y1="286.50" x2="260.08" y2="288.80" stroke="#231f20" stroke-width="1.0"/>
<line x1="261.00" y1="286.50" x2="261.00" y2="289.50" stroke="#231f20" stroke-width="1"/>
<text transform="translate(260.90 299.30) scale(0.84 1)" font-size="8.8" text-anchor="middle" fill="#2b2b2b">10<tspan font-size="6.1" dy="-4.0">3</tspan></text>
<line x1="267.02" y1="286.50" x2="267.02" y2="288.80" stroke="#231f20" stroke-width="1.0"/>
<line x1="270.54" y1="286.50" x2="270.54" y2="288.80" stroke="#231f20" stroke-width="1.0"/>
<line x1="273.04" y1="286.50" x2="273.04" y2="288.80" stroke="#231f20" stroke-width="1.0"/>
<line x1="274.98" y1="286.50" x2="274.98" y2="288.80" stroke="#231f20" stroke-width="1.0"/>
<line x1="276.56" y1="286.50" x2="276.56" y2="288.80" stroke="#231f20" stroke-width="1.0"/>
<line x1="277.90" y1="286.50" x2="277.90" y2="288.80" stroke="#231f20" stroke-width="1.0"/>
<line x1="279.06" y1="286.50" x2="279.06" y2="288.80" stroke="#231f20" stroke-width="1.0"/>
<line x1="280.08" y1="286.50" x2="280.08" y2="288.80" stroke="#231f20" stroke-width="1.0"/>
<line x1="281.00" y1="286.50" x2="281.00" y2="289.50" stroke="#231f20" stroke-width="1"/>
<text transform="translate(280.90 299.30) scale(0.84 1)" font-size="8.8" text-anchor="middle" fill="#2b2b2b">10<tspan font-size="6.1" dy="-4.0">4</tspan></text>
<text transform="translate(231.00 311.00) scale(0.88 1)" font-size="8.4" text-anchor="middle" fill="#2b2b2b" font-weight="normal">Ab. conc. (nM)</text>
<polyline points="191.00,286.40 192.00,286.39 193.00,286.38 194.00,286.36 195.00,286.35 196.00,286.33 197.00,286.31 198.00,286.29 199.00,286.26 200.00,286.24 201.00,286.20 202.00,286.17 203.00,286.13 204.00,286.09 205.00,286.05 206.00,285.99 207.00,285.94 208.00,285.87 209.00,285.80 210.00,285.72 211.00,285.64 212.00,285.54 213.00,285.43 214.00,285.31 215.00,285.18 216.00,285.04 217.00,284.87 218.00,284.70 219.00,284.50 220.00,284.28 221.00,284.05 222.00,283.79 223.00,283.50 224.00,283.19 225.00,282.85 226.00,282.47 227.00,282.07 228.00,281.63 229.00,281.15 230.00,280.64 231.00,280.09 232.00,279.50 233.00,278.87 234.00,278.20 235.00,277.49 236.00,276.75 237.00,275.96 238.00,275.15 239.00,274.30 240.00,273.42 241.00,272.52 242.00,271.60 243.00,270.67 244.00,269.72 245.00,268.78 246.00,267.83 247.00,266.90 248.00,265.97 249.00,265.07 250.00,264.19 251.00,263.33 252.00,262.51 253.00,261.72 254.00,260.96 255.00,260.25 256.00,259.57 257.00,258.93 258.00,258.33 259.00,257.78 260.00,257.26 261.00,256.77 262.00,256.33 263.00,255.92 264.00,255.54 265.00,255.19 266.00,254.87 267.00,254.58 268.00,254.31 269.00,254.07 270.00,253.85 271.00,253.65 272.00,253.47 273.00,253.31 274.00,253.16 275.00,253.02 276.00,252.90 277.00,252.79 278.00,252.69 279.00,252.60" fill="none" stroke="#114c8e" stroke-width="1.35"/>
<circle cx="191.40" cy="286.50" r="1.6" fill="#114c8e"/>
<circle cx="201.15" cy="286.50" r="1.6" fill="#114c8e"/>
<circle cx="210.90" cy="286.30" r="1.6" fill="#114c8e"/>
<circle cx="220.65" cy="285.29" r="1.6" fill="#114c8e"/>
<circle cx="230.40" cy="279.87" r="1.6" fill="#114c8e"/>
<line x1="240.15" y1="271.82" x2="240.15" y2="274.24" stroke="#114c8e" stroke-width="1.0"/>
<line x1="238.35" y1="271.82" x2="241.95" y2="271.82" stroke="#114c8e" stroke-width="1.0"/>
<line x1="238.35" y1="274.24" x2="241.95" y2="274.24" stroke="#114c8e" stroke-width="1.0"/>
<circle cx="240.15" cy="273.03" r="1.6" fill="#114c8e"/>
<line x1="249.90" y1="264.29" x2="249.90" y2="266.72" stroke="#114c8e" stroke-width="1.0"/>
<line x1="248.10" y1="264.29" x2="251.70" y2="264.29" stroke="#114c8e" stroke-width="1.0"/>
<line x1="248.10" y1="266.72" x2="251.70" y2="266.72" stroke="#114c8e" stroke-width="1.0"/>
<circle cx="249.90" cy="265.51" r="1.6" fill="#114c8e"/>
<line x1="259.65" y1="256.57" x2="259.65" y2="260.61" stroke="#114c8e" stroke-width="1.0"/>
<line x1="257.85" y1="256.57" x2="261.45" y2="256.57" stroke="#114c8e" stroke-width="1.0"/>
<line x1="257.85" y1="260.61" x2="261.45" y2="260.61" stroke="#114c8e" stroke-width="1.0"/>
<circle cx="259.65" cy="258.59" r="1.6" fill="#114c8e"/>
<line x1="269.40" y1="251.27" x2="269.40" y2="256.12" stroke="#114c8e" stroke-width="1.0"/>
<line x1="267.60" y1="251.27" x2="271.20" y2="251.27" stroke="#114c8e" stroke-width="1.0"/>
<line x1="267.60" y1="256.12" x2="271.20" y2="256.12" stroke="#114c8e" stroke-width="1.0"/>
<circle cx="269.40" cy="253.70" r="1.6" fill="#114c8e"/>
<line x1="279.15" y1="248.56" x2="279.15" y2="255.84" stroke="#114c8e" stroke-width="1.0"/>
<line x1="277.35" y1="248.56" x2="280.95" y2="248.56" stroke="#114c8e" stroke-width="1.0"/>
<line x1="277.35" y1="255.84" x2="280.95" y2="255.84" stroke="#114c8e" stroke-width="1.0"/>
<circle cx="279.15" cy="252.20" r="1.6" fill="#114c8e"/>
<polyline points="191.00,286.47 192.00,286.46 193.00,286.46 194.00,286.45 195.00,286.44 196.00,286.44 197.00,286.43 198.00,286.42 199.00,286.41 200.00,286.40 201.00,286.39 202.00,286.37 203.00,286.35 204.00,286.34 205.00,286.31 206.00,286.29 207.00,286.26 208.00,286.23 209.00,286.20 210.00,286.16 211.00,286.12 212.00,286.07 213.00,286.01 214.00,285.95 215.00,285.88 216.00,285.80 217.00,285.71 218.00,285.61 219.00,285.50 220.00,285.38 221.00,285.24 222.00,285.08 223.00,284.91 224.00,284.71 225.00,284.49 226.00,284.25 227.00,283.98 228.00,283.69 229.00,283.36 230.00,283.00 231.00,282.60 232.00,282.17 233.00,281.69 234.00,281.17 235.00,280.61 236.00,280.01 237.00,279.36 238.00,278.67 239.00,277.93 240.00,277.16 241.00,276.34 242.00,275.49 243.00,274.61 244.00,273.71 245.00,272.78 246.00,271.84 247.00,270.90 248.00,269.96 249.00,269.02 250.00,268.10 251.00,267.20 252.00,266.33 253.00,265.49 254.00,264.68 255.00,263.91 256.00,263.19 257.00,262.51 258.00,261.87 259.00,261.27 260.00,260.73 261.00,260.22 262.00,259.75 263.00,259.33 264.00,258.94 265.00,258.59 266.00,258.27 267.00,257.98 268.00,257.71 269.00,257.48 270.00,257.27 271.00,257.08 272.00,256.91 273.00,256.76 274.00,256.62 275.00,256.50 276.00,256.39 277.00,256.29 278.00,256.21 279.00,256.13" fill="none" stroke="#2aae43" stroke-width="1.35"/>
<circle cx="191.40" cy="286.50" r="1.6" fill="#2aae43"/>
<circle cx="201.15" cy="286.50" r="1.6" fill="#2aae43"/>
<circle cx="210.90" cy="286.50" r="1.6" fill="#2aae43"/>
<circle cx="220.65" cy="285.69" r="1.6" fill="#2aae43"/>
<circle cx="230.40" cy="282.45" r="1.6" fill="#2aae43"/>
<line x1="240.15" y1="275.86" x2="240.15" y2="278.29" stroke="#2aae43" stroke-width="1.0"/>
<line x1="238.35" y1="275.86" x2="241.95" y2="275.86" stroke="#2aae43" stroke-width="1.0"/>
<line x1="238.35" y1="278.29" x2="241.95" y2="278.29" stroke="#2aae43" stroke-width="1.0"/>
<circle cx="240.15" cy="277.08" r="1.6" fill="#2aae43"/>
<line x1="249.90" y1="268.01" x2="249.90" y2="270.44" stroke="#2aae43" stroke-width="1.0"/>
<line x1="248.10" y1="268.01" x2="251.70" y2="268.01" stroke="#2aae43" stroke-width="1.0"/>
<line x1="248.10" y1="270.44" x2="251.70" y2="270.44" stroke="#2aae43" stroke-width="1.0"/>
<circle cx="249.90" cy="269.23" r="1.6" fill="#2aae43"/>
<line x1="259.65" y1="260.61" x2="259.65" y2="264.66" stroke="#2aae43" stroke-width="1.0"/>
<line x1="257.85" y1="260.61" x2="261.45" y2="260.61" stroke="#2aae43" stroke-width="1.0"/>
<line x1="257.85" y1="264.66" x2="261.45" y2="264.66" stroke="#2aae43" stroke-width="1.0"/>
<circle cx="259.65" cy="262.63" r="1.6" fill="#2aae43"/>
<line x1="269.40" y1="256.57" x2="269.40" y2="260.61" stroke="#2aae43" stroke-width="1.0"/>
<line x1="267.60" y1="256.57" x2="271.20" y2="256.57" stroke="#2aae43" stroke-width="1.0"/>
<line x1="267.60" y1="260.61" x2="271.20" y2="260.61" stroke="#2aae43" stroke-width="1.0"/>
<circle cx="269.40" cy="258.59" r="1.6" fill="#2aae43"/>
<line x1="279.15" y1="253.74" x2="279.15" y2="259.40" stroke="#2aae43" stroke-width="1.0"/>
<line x1="277.35" y1="253.74" x2="280.95" y2="253.74" stroke="#2aae43" stroke-width="1.0"/>
<line x1="277.35" y1="259.40" x2="280.95" y2="259.40" stroke="#2aae43" stroke-width="1.0"/>
<circle cx="279.15" cy="256.57" r="1.6" fill="#2aae43"/>
<polyline points="191.00,285.78 192.00,285.71 193.00,285.63 194.00,285.54 195.00,285.44 196.00,285.33 197.00,285.21 198.00,285.08 199.00,284.94 200.00,284.78 201.00,284.61 202.00,284.42 203.00,284.21 204.00,283.99 205.00,283.74 206.00,283.47 207.00,283.17 208.00,282.85 209.00,282.51 210.00,282.13 211.00,281.72 212.00,281.27 213.00,280.79 214.00,280.28 215.00,279.72 216.00,279.13 217.00,278.49 218.00,277.81 219.00,277.09 220.00,276.32 221.00,275.51 222.00,274.65 223.00,273.76 224.00,272.82 225.00,271.85 226.00,270.84 227.00,269.79 228.00,268.72 229.00,267.62 230.00,266.51 231.00,265.38 232.00,264.24 233.00,263.10 234.00,261.96 235.00,260.83 236.00,259.71 237.00,258.61 238.00,257.53 239.00,256.48 240.00,255.46 241.00,254.48 242.00,253.54 243.00,252.63 244.00,251.77 245.00,250.95 246.00,250.17 247.00,249.44 248.00,248.75 249.00,248.11 250.00,247.50 251.00,246.94 252.00,246.42 253.00,245.93 254.00,245.48 255.00,245.06 256.00,244.68 257.00,244.32 258.00,244.00 259.00,243.70 260.00,243.42 261.00,243.17 262.00,242.94 263.00,242.73 264.00,242.54 265.00,242.36 266.00,242.20 267.00,242.05 268.00,241.92 269.00,241.80 270.00,241.69 271.00,241.59 272.00,241.50 273.00,241.42 274.00,241.34 275.00,241.27 276.00,241.21 277.00,241.15 278.00,241.10 279.00,241.06" fill="none" stroke="#c90a2c" stroke-width="1.35"/>
<circle cx="191.40" cy="285.49" r="1.6" fill="#c90a2c"/>
<circle cx="201.15" cy="283.67" r="1.6" fill="#c90a2c"/>
<circle cx="210.90" cy="278.81" r="1.6" fill="#c90a2c"/>
<circle cx="220.65" cy="272.54" r="1.6" fill="#c90a2c"/>
<line x1="230.40" y1="264.29" x2="230.40" y2="267.53" stroke="#c90a2c" stroke-width="1.0"/>
<line x1="228.60" y1="264.29" x2="232.20" y2="264.29" stroke="#c90a2c" stroke-width="1.0"/>
<line x1="228.60" y1="267.53" x2="232.20" y2="267.53" stroke="#c90a2c" stroke-width="1.0"/>
<circle cx="230.40" cy="265.91" r="1.6" fill="#c90a2c"/>
<line x1="240.15" y1="257.07" x2="240.15" y2="262.74" stroke="#c90a2c" stroke-width="1.0"/>
<line x1="238.35" y1="257.07" x2="241.95" y2="257.07" stroke="#c90a2c" stroke-width="1.0"/>
<line x1="238.35" y1="262.74" x2="241.95" y2="262.74" stroke="#c90a2c" stroke-width="1.0"/>
<circle cx="240.15" cy="259.90" r="1.6" fill="#c90a2c"/>
<line x1="249.90" y1="250.85" x2="249.90" y2="256.51" stroke="#c90a2c" stroke-width="1.0"/>
<line x1="248.10" y1="250.85" x2="251.70" y2="250.85" stroke="#c90a2c" stroke-width="1.0"/>
<line x1="248.10" y1="256.51" x2="251.70" y2="256.51" stroke="#c90a2c" stroke-width="1.0"/>
<circle cx="249.90" cy="253.68" r="1.6" fill="#c90a2c"/>
<line x1="259.65" y1="243.52" x2="259.65" y2="249.18" stroke="#c90a2c" stroke-width="1.0"/>
<line x1="257.85" y1="243.52" x2="261.45" y2="243.52" stroke="#c90a2c" stroke-width="1.0"/>
<line x1="257.85" y1="249.18" x2="261.45" y2="249.18" stroke="#c90a2c" stroke-width="1.0"/>
<circle cx="259.65" cy="246.35" r="1.6" fill="#c90a2c"/>
<line x1="269.40" y1="233.57" x2="269.40" y2="244.08" stroke="#c90a2c" stroke-width="1.0"/>
<line x1="267.60" y1="233.57" x2="271.20" y2="233.57" stroke="#c90a2c" stroke-width="1.0"/>
<line x1="267.60" y1="244.08" x2="271.20" y2="244.08" stroke="#c90a2c" stroke-width="1.0"/>
<circle cx="269.40" cy="238.83" r="1.6" fill="#c90a2c"/>
<line x1="279.15" y1="230.10" x2="279.15" y2="242.73" stroke="#c90a2c" stroke-width="1.0"/>
<line x1="277.35" y1="230.10" x2="280.95" y2="230.10" stroke="#c90a2c" stroke-width="1.0"/>
<line x1="277.35" y1="242.73" x2="280.95" y2="242.73" stroke="#c90a2c" stroke-width="1.0"/>
<circle cx="279.15" cy="236.41" r="1.6" fill="#c90a2c"/>
<line x1="186.00" y1="205.40" x2="195.00" y2="205.40" stroke="#c90a2c" stroke-width="1.3"/>
<circle cx="190.50" cy="205.40" r="1.5" fill="#c90a2c"/>
<text transform="translate(198.30 208.00) scale(0.87 1)" font-size="8.4" text-anchor="start" fill="#2b2b2b" font-weight="normal">SAR442085</text>
<line x1="186.00" y1="215.40" x2="195.00" y2="215.40" stroke="#114c8e" stroke-width="1.3"/>
<circle cx="190.50" cy="215.40" r="1.5" fill="#114c8e"/>
<text transform="translate(198.30 218.00) scale(0.87 1)" font-size="8.4" text-anchor="start" fill="#2b2b2b" font-weight="normal">Daratumumab</text>
<line x1="186.00" y1="225.40" x2="195.00" y2="225.40" stroke="#2aae43" stroke-width="1.3"/>
<circle cx="190.50" cy="225.40" r="1.5" fill="#2aae43"/>
<text transform="translate(198.30 228.00) scale(0.87 1)" font-size="8.4" text-anchor="start" fill="#2b2b2b" font-weight="normal">Isatuximab</text>
<text transform="translate(186.00 253.00) scale(0.92 1)" font-size="7.9" text-anchor="start" fill="#2b2b2b" font-weight="normal">n=3</text>
<text transform="translate(147.50 245.00) rotate(-90) scale(0.8 1)" font-size="9.3" text-anchor="middle" fill="#2b2b2b" font-weight="normal">MFI</text>
<text transform="translate(355.00 186.60) scale(1.01 1)" font-size="8.9" text-anchor="middle" fill="#2b2b2b" font-weight="normal">FcγRIIIa-158V</text>
<line x1="340.50" y1="204.70" x2="340.50" y2="286.70" stroke="#231f20" stroke-width="1.1"/>
<line x1="337.50" y1="286.20" x2="340.50" y2="286.20" stroke="#231f20" stroke-width="1"/>
<text transform="translate(334.70 289.20) scale(0.84 1)" font-size="8.8" text-anchor="end" fill="#2b2b2b">10<tspan font-size="6.1" dy="-2.6">1</tspan></text>
<line x1="338.10" y1="278.07" x2="340.50" y2="278.07" stroke="#231f20" stroke-width="0.9"/>
<line x1="338.10" y1="273.32" x2="340.50" y2="273.32" stroke="#231f20" stroke-width="0.9"/>
<line x1="338.10" y1="269.94" x2="340.50" y2="269.94" stroke="#231f20" stroke-width="0.9"/>
<line x1="338.10" y1="267.33" x2="340.50" y2="267.33" stroke="#231f20" stroke-width="0.9"/>
<line x1="338.10" y1="265.19" x2="340.50" y2="265.19" stroke="#231f20" stroke-width="0.9"/>
<line x1="338.10" y1="263.38" x2="340.50" y2="263.38" stroke="#231f20" stroke-width="0.9"/>
<line x1="338.10" y1="261.82" x2="340.50" y2="261.82" stroke="#231f20" stroke-width="0.9"/>
<line x1="338.10" y1="260.44" x2="340.50" y2="260.44" stroke="#231f20" stroke-width="0.9"/>
<line x1="337.50" y1="259.20" x2="340.50" y2="259.20" stroke="#231f20" stroke-width="1"/>
<text transform="translate(334.70 262.20) scale(0.84 1)" font-size="8.8" text-anchor="end" fill="#2b2b2b">10<tspan font-size="6.1" dy="-2.6">2</tspan></text>
<line x1="338.10" y1="251.07" x2="340.50" y2="251.07" stroke="#231f20" stroke-width="0.9"/>
<line x1="338.10" y1="246.32" x2="340.50" y2="246.32" stroke="#231f20" stroke-width="0.9"/>
<line x1="338.10" y1="242.94" x2="340.50" y2="242.94" stroke="#231f20" stroke-width="0.9"/>
<line x1="338.10" y1="240.33" x2="340.50" y2="240.33" stroke="#231f20" stroke-width="0.9"/>
<line x1="338.10" y1="238.19" x2="340.50" y2="238.19" stroke="#231f20" stroke-width="0.9"/>
<line x1="338.10" y1="236.38" x2="340.50" y2="236.38" stroke="#231f20" stroke-width="0.9"/>
<line x1="338.10" y1="234.82" x2="340.50" y2="234.82" stroke="#231f20" stroke-width="0.9"/>
<line x1="338.10" y1="233.44" x2="340.50" y2="233.44" stroke="#231f20" stroke-width="0.9"/>
<line x1="337.50" y1="232.20" x2="340.50" y2="232.20" stroke="#231f20" stroke-width="1"/>
<text transform="translate(334.70 235.20) scale(0.84 1)" font-size="8.8" text-anchor="end" fill="#2b2b2b">10<tspan font-size="6.1" dy="-2.6">3</tspan></text>
<line x1="338.10" y1="224.07" x2="340.50" y2="224.07" stroke="#231f20" stroke-width="0.9"/>
<line x1="338.10" y1="219.32" x2="340.50" y2="219.32" stroke="#231f20" stroke-width="0.9"/>
<line x1="338.10" y1="215.94" x2="340.50" y2="215.94" stroke="#231f20" stroke-width="0.9"/>
<line x1="338.10" y1="213.33" x2="340.50" y2="213.33" stroke="#231f20" stroke-width="0.9"/>
<line x1="338.10" y1="211.19" x2="340.50" y2="211.19" stroke="#231f20" stroke-width="0.9"/>
<line x1="338.10" y1="209.38" x2="340.50" y2="209.38" stroke="#231f20" stroke-width="0.9"/>
<line x1="338.10" y1="207.82" x2="340.50" y2="207.82" stroke="#231f20" stroke-width="0.9"/>
<line x1="338.10" y1="206.44" x2="340.50" y2="206.44" stroke="#231f20" stroke-width="0.9"/>
<line x1="337.50" y1="205.20" x2="340.50" y2="205.20" stroke="#231f20" stroke-width="1"/>
<text transform="translate(334.70 208.20) scale(0.84 1)" font-size="8.8" text-anchor="end" fill="#2b2b2b">10<tspan font-size="6.1" dy="-2.6">4</tspan></text>
<line x1="340.00" y1="286.20" x2="390.70" y2="286.20" stroke="#231f20" stroke-width="1.1"/>
<line x1="350.30" y1="286.20" x2="350.30" y2="289.20" stroke="#231f20" stroke-width="1"/>
<text transform="translate(355.00 296.20) rotate(-45) scale(0.97 1)" font-size="7.9" text-anchor="end" fill="#2b2b2b" font-weight="normal">SAR442085</text>
<line x1="365.30" y1="286.20" x2="365.30" y2="289.20" stroke="#231f20" stroke-width="1"/>
<text transform="translate(370.00 296.20) rotate(-45) scale(1.04 1)" font-size="7.9" text-anchor="end" fill="#2b2b2b" font-weight="normal">Daratumumab</text>
<line x1="380.30" y1="286.20" x2="380.30" y2="289.20" stroke="#231f20" stroke-width="1"/>
<text transform="translate(385.00 296.20) rotate(-45) scale(1.01 1)" font-size="7.9" text-anchor="end" fill="#2b2b2b" font-weight="normal">Isatuximab</text>
<text transform="translate(315.50 246.00) rotate(-90) scale(0.83 1)" font-size="9.3" text-anchor="middle" fill="#2b2b2b">Apparent K<tspan font-size="6.32" dy="2">D</tspan><tspan dy="-2"> (nM)</tspan></text>
<line x1="350.30" y1="222.20" x2="380.30" y2="222.20" stroke="#666" stroke-width="1.0"/>
<polygon points="361.05,215.30 361.58,216.67 363.05,216.75 361.91,217.68 362.28,219.10 361.05,218.30 359.82,219.10 360.19,217.68 359.05,216.75 360.52,216.67" fill="#1e1e1e"/>
<polygon points="365.30,215.30 365.83,216.67 367.30,216.75 366.16,217.68 366.53,219.10 365.30,218.30 364.07,219.10 364.44,217.68 363.30,216.75 364.77,216.67" fill="#1e1e1e"/>
<polygon points="369.55,215.30 370.08,216.67 371.55,216.75 370.41,217.68 370.78,219.10 369.55,218.30 368.32,219.10 368.69,217.68 367.55,216.75 369.02,216.67" fill="#1e1e1e"/>
<line x1="350.30" y1="240.00" x2="365.30" y2="240.00" stroke="#666" stroke-width="1.0"/>
<polygon points="355.68,233.10 356.21,234.47 357.67,234.55 356.53,235.48 356.91,236.90 355.68,236.10 354.44,236.90 354.82,235.48 353.68,234.55 355.14,234.47" fill="#1e1e1e"/>
<polygon points="359.93,233.10 360.46,234.47 361.92,234.55 360.78,235.48 361.16,236.90 359.93,236.10 358.69,236.90 359.07,235.48 357.93,234.55 359.39,234.47" fill="#1e1e1e"/>
<line x1="345.30" y1="271.00" x2="355.30" y2="271.00" stroke="#4a4a4a" stroke-width="1"/>
<circle cx="347.00" cy="271.90" r="1.65" fill="#c90a2c"/>
<circle cx="350.30" cy="269.30" r="1.65" fill="#c90a2c"/>
<circle cx="353.70" cy="271.20" r="1.65" fill="#c90a2c"/>
<line x1="360.30" y1="254.20" x2="370.30" y2="254.20" stroke="#4a4a4a" stroke-width="1"/>
<circle cx="361.90" cy="252.10" r="1.65" fill="#114c8e"/>
<circle cx="361.90" cy="256.20" r="1.65" fill="#114c8e"/>
<circle cx="368.70" cy="253.90" r="1.65" fill="#114c8e"/>
<line x1="375.30" y1="251.60" x2="385.30" y2="251.60" stroke="#4a4a4a" stroke-width="1"/>
<circle cx="377.30" cy="252.30" r="1.65" fill="#2aae43"/>
<circle cx="380.40" cy="249.40" r="1.65" fill="#2aae43"/>
<circle cx="383.70" cy="252.30" r="1.65" fill="#2aae43"/>
<line x1="462.10" y1="205.00" x2="462.10" y2="286.70" stroke="#231f20" stroke-width="1.1"/>
<line x1="459.10" y1="286.20" x2="462.10" y2="286.20" stroke="#231f20" stroke-width="1"/>
<text transform="translate(455.90 289.10) scale(0.92 1)" font-size="8.4" text-anchor="end" fill="#2b2b2b" font-weight="normal">0</text>
<line x1="459.10" y1="270.06" x2="462.10" y2="270.06" stroke="#231f20" stroke-width="1"/>
<text transform="translate(455.90 272.96) scale(0.92 1)" font-size="8.4" text-anchor="end" fill="#2b2b2b" font-weight="normal">5000</text>
<line x1="459.10" y1="253.92" x2="462.10" y2="253.92" stroke="#231f20" stroke-width="1"/>
<text transform="translate(455.90 256.82) scale(0.92 1)" font-size="8.4" text-anchor="end" fill="#2b2b2b" font-weight="normal">10000</text>
<line x1="459.10" y1="237.78" x2="462.10" y2="237.78" stroke="#231f20" stroke-width="1"/>
<text transform="translate(455.90 240.68) scale(0.92 1)" font-size="8.4" text-anchor="end" fill="#2b2b2b" font-weight="normal">15000</text>
<line x1="459.10" y1="221.64" x2="462.10" y2="221.64" stroke="#231f20" stroke-width="1"/>
<text transform="translate(455.90 224.54) scale(0.92 1)" font-size="8.4" text-anchor="end" fill="#2b2b2b" font-weight="normal">20000</text>
<line x1="459.10" y1="205.50" x2="462.10" y2="205.50" stroke="#231f20" stroke-width="1"/>
<text transform="translate(455.90 208.40) scale(0.92 1)" font-size="8.4" text-anchor="end" fill="#2b2b2b" font-weight="normal">25000</text>
<line x1="461.60" y1="286.20" x2="512.30" y2="286.20" stroke="#231f20" stroke-width="1.1"/>
<line x1="472.30" y1="286.20" x2="472.30" y2="289.20" stroke="#231f20" stroke-width="1"/>
<text transform="translate(477.00 296.20) rotate(-45) scale(0.97 1)" font-size="7.9" text-anchor="end" fill="#2b2b2b" font-weight="normal">SAR442085</text>
<line x1="487.30" y1="286.20" x2="487.30" y2="289.20" stroke="#231f20" stroke-width="1"/>
<text transform="translate(492.00 296.20) rotate(-45) scale(1.04 1)" font-size="7.9" text-anchor="end" fill="#2b2b2b" font-weight="normal">Daratumumab</text>
<line x1="502.30" y1="286.20" x2="502.30" y2="289.20" stroke="#231f20" stroke-width="1"/>
<text transform="translate(507.00 296.20) rotate(-45) scale(1.01 1)" font-size="7.9" text-anchor="end" fill="#2b2b2b" font-weight="normal">Isatuximab</text>
<text transform="translate(428.00 245.50) rotate(-90) scale(0.8 1)" font-size="9.3" text-anchor="middle" fill="#2b2b2b" font-weight="normal">Bmax (MFI)</text>
<line x1="472.30" y1="215.70" x2="502.30" y2="215.70" stroke="#666" stroke-width="1.0"/>
<polygon points="485.18,208.80 485.71,210.17 487.17,210.25 486.03,211.18 486.41,212.60 485.18,211.80 483.94,212.60 484.32,211.18 483.18,210.25 484.64,210.17" fill="#1e1e1e"/>
<polygon points="489.43,208.80 489.96,210.17 491.42,210.25 490.28,211.18 490.66,212.60 489.43,211.80 488.19,212.60 488.57,211.18 487.43,210.25 488.89,210.17" fill="#1e1e1e"/>
<line x1="472.30" y1="232.70" x2="487.30" y2="232.70" stroke="#666" stroke-width="1.0"/>
<polygon points="477.68,225.80 478.21,227.17 479.67,227.25 478.53,228.18 478.91,229.60 477.68,228.80 476.44,229.60 476.82,228.18 475.68,227.25 477.14,227.17" fill="#1e1e1e"/>
<polygon points="481.93,225.80 482.46,227.17 483.92,227.25 482.78,228.18 483.16,229.60 481.93,228.80 480.69,229.60 481.07,228.18 479.93,227.25 481.39,227.17" fill="#1e1e1e"/>
<line x1="467.30" y1="250.20" x2="477.30" y2="250.20" stroke="#4a4a4a" stroke-width="1"/>
<circle cx="472.30" cy="242.60" r="1.65" fill="#c90a2c"/>
<circle cx="472.30" cy="251.60" r="1.65" fill="#c90a2c"/>
<circle cx="472.30" cy="256.30" r="1.65" fill="#c90a2c"/>
<line x1="482.30" y1="258.70" x2="492.30" y2="258.70" stroke="#4a4a4a" stroke-width="1"/>
<circle cx="487.30" cy="250.90" r="1.65" fill="#114c8e"/>
<circle cx="483.60" cy="262.50" r="1.65" fill="#114c8e"/>
<circle cx="490.70" cy="262.50" r="1.65" fill="#114c8e"/>
<line x1="497.30" y1="261.70" x2="507.30" y2="261.70" stroke="#4a4a4a" stroke-width="1"/>
<circle cx="502.30" cy="255.90" r="1.65" fill="#2aae43"/>
<circle cx="498.70" cy="265.10" r="1.65" fill="#2aae43"/>
<circle cx="505.80" cy="264.10" r="1.65" fill="#2aae43"/>
<line x1="54.60" y1="364.90" x2="54.60" y2="447.00" stroke="#231f20" stroke-width="1.1"/>
<line x1="51.60" y1="446.50" x2="54.60" y2="446.50" stroke="#231f20" stroke-width="1"/>
<text transform="translate(48.40 449.40) scale(0.92 1)" font-size="8.4" text-anchor="end" fill="#2b2b2b" font-weight="normal">0</text>
<line x1="51.60" y1="419.47" x2="54.60" y2="419.47" stroke="#231f20" stroke-width="1"/>
<text transform="translate(48.40 422.37) scale(0.92 1)" font-size="8.4" text-anchor="end" fill="#2b2b2b" font-weight="normal">5000</text>
<line x1="51.60" y1="392.43" x2="54.60" y2="392.43" stroke="#231f20" stroke-width="1"/>
<text transform="translate(48.40 395.33) scale(0.92 1)" font-size="8.4" text-anchor="end" fill="#2b2b2b" font-weight="normal">10000</text>
<line x1="51.60" y1="365.40" x2="54.60" y2="365.40" stroke="#231f20" stroke-width="1"/>
<text transform="translate(48.40 368.30) scale(0.92 1)" font-size="8.4" text-anchor="end" fill="#2b2b2b" font-weight="normal">15000</text>
<line x1="54.10" y1="446.50" x2="156.00" y2="446.50" stroke="#231f20" stroke-width="1.1"/>
<line x1="54.60" y1="446.50" x2="54.60" y2="449.50" stroke="#231f20" stroke-width="1"/>
<text transform="translate(54.50 459.30) scale(0.84 1)" font-size="8.8" text-anchor="middle" fill="#2b2b2b">10<tspan font-size="6.1" dy="-4.0">-1</tspan></text>
<line x1="60.62" y1="446.50" x2="60.62" y2="448.80" stroke="#231f20" stroke-width="1.0"/>
<line x1="64.14" y1="446.50" x2="64.14" y2="448.80" stroke="#231f20" stroke-width="1.0"/>
<line x1="66.64" y1="446.50" x2="66.64" y2="448.80" stroke="#231f20" stroke-width="1.0"/>
<line x1="68.58" y1="446.50" x2="68.58" y2="448.80" stroke="#231f20" stroke-width="1.0"/>
<line x1="70.16" y1="446.50" x2="70.16" y2="448.80" stroke="#231f20" stroke-width="1.0"/>
<line x1="71.50" y1="446.50" x2="71.50" y2="448.80" stroke="#231f20" stroke-width="1.0"/>
<line x1="72.66" y1="446.50" x2="72.66" y2="448.80" stroke="#231f20" stroke-width="1.0"/>
<line x1="73.68" y1="446.50" x2="73.68" y2="448.80" stroke="#231f20" stroke-width="1.0"/>
<line x1="74.60" y1="446.50" x2="74.60" y2="449.50" stroke="#231f20" stroke-width="1"/>
<text transform="translate(74.50 459.30) scale(0.84 1)" font-size="8.8" text-anchor="middle" fill="#2b2b2b">10<tspan font-size="6.1" dy="-4.0">0</tspan></text>
<line x1="80.62" y1="446.50" x2="80.62" y2="448.80" stroke="#231f20" stroke-width="1.0"/>
<line x1="84.14" y1="446.50" x2="84.14" y2="448.80" stroke="#231f20" stroke-width="1.0"/>
<line x1="86.64" y1="446.50" x2="86.64" y2="448.80" stroke="#231f20" stroke-width="1.0"/>
<line x1="88.58" y1="446.50" x2="88.58" y2="448.80" stroke="#231f20" stroke-width="1.0"/>
<line x1="90.16" y1="446.50" x2="90.16" y2="448.80" stroke="#231f20" stroke-width="1.0"/>
<line x1="91.50" y1="446.50" x2="91.50" y2="448.80" stroke="#231f20" stroke-width="1.0"/>
<line x1="92.66" y1="446.50" x2="92.66" y2="448.80" stroke="#231f20" stroke-width="1.0"/>
<line x1="93.68" y1="446.50" x2="93.68" y2="448.80" stroke="#231f20" stroke-width="1.0"/>
<line x1="94.60" y1="446.50" x2="94.60" y2="449.50" stroke="#231f20" stroke-width="1"/>
<text transform="translate(94.50 459.30) scale(0.84 1)" font-size="8.8" text-anchor="middle" fill="#2b2b2b">10<tspan font-size="6.1" dy="-4.0">1</tspan></text>
<line x1="100.62" y1="446.50" x2="100.62" y2="448.80" stroke="#231f20" stroke-width="1.0"/>
<line x1="104.14" y1="446.50" x2="104.14" y2="448.80" stroke="#231f20" stroke-width="1.0"/>
<line x1="106.64" y1="446.50" x2="106.64" y2="448.80" stroke="#231f20" stroke-width="1.0"/>
<line x1="108.58" y1="446.50" x2="108.58" y2="448.80" stroke="#231f20" stroke-width="1.0"/>
<line x1="110.16" y1="446.50" x2="110.16" y2="448.80" stroke="#231f20" stroke-width="1.0"/>
<line x1="111.50" y1="446.50" x2="111.50" y2="448.80" stroke="#231f20" stroke-width="1.0"/>
<line x1="112.66" y1="446.50" x2="112.66" y2="448.80" stroke="#231f20" stroke-width="1.0"/>
<line x1="113.68" y1="446.50" x2="113.68" y2="448.80" stroke="#231f20" stroke-width="1.0"/>
<line x1="114.60" y1="446.50" x2="114.60" y2="449.50" stroke="#231f20" stroke-width="1"/>
<text transform="translate(114.50 459.30) scale(0.84 1)" font-size="8.8" text-anchor="middle" fill="#2b2b2b">10<tspan font-size="6.1" dy="-4.0">2</tspan></text>
<line x1="120.62" y1="446.50" x2="120.62" y2="448.80" stroke="#231f20" stroke-width="1.0"/>
<line x1="124.14" y1="446.50" x2="124.14" y2="448.80" stroke="#231f20" stroke-width="1.0"/>
<line x1="126.64" y1="446.50" x2="126.64" y2="448.80" stroke="#231f20" stroke-width="1.0"/>
<line x1="128.58" y1="446.50" x2="128.58" y2="448.80" stroke="#231f20" stroke-width="1.0"/>
<line x1="130.16" y1="446.50" x2="130.16" y2="448.80" stroke="#231f20" stroke-width="1.0"/>
<line x1="131.50" y1="446.50" x2="131.50" y2="448.80" stroke="#231f20" stroke-width="1.0"/>
<line x1="132.66" y1="446.50" x2="132.66" y2="448.80" stroke="#231f20" stroke-width="1.0"/>
<line x1="133.68" y1="446.50" x2="133.68" y2="448.80" stroke="#231f20" stroke-width="1.0"/>
<line x1="134.60" y1="446.50" x2="134.60" y2="449.50" stroke="#231f20" stroke-width="1"/>
<text transform="translate(134.50 459.30) scale(0.84 1)" font-size="8.8" text-anchor="middle" fill="#2b2b2b">10<tspan font-size="6.1" dy="-4.0">3</tspan></text>
<line x1="140.62" y1="446.50" x2="140.62" y2="448.80" stroke="#231f20" stroke-width="1.0"/>
<line x1="144.14" y1="446.50" x2="144.14" y2="448.80" stroke="#231f20" stroke-width="1.0"/>
<line x1="146.64" y1="446.50" x2="146.64" y2="448.80" stroke="#231f20" stroke-width="1.0"/>
<line x1="148.58" y1="446.50" x2="148.58" y2="448.80" stroke="#231f20" stroke-width="1.0"/>
<line x1="150.16" y1="446.50" x2="150.16" y2="448.80" stroke="#231f20" stroke-width="1.0"/>
<line x1="151.50" y1="446.50" x2="151.50" y2="448.80" stroke="#231f20" stroke-width="1.0"/>
<line x1="152.66" y1="446.50" x2="152.66" y2="448.80" stroke="#231f20" stroke-width="1.0"/>
<line x1="153.68" y1="446.50" x2="153.68" y2="448.80" stroke="#231f20" stroke-width="1.0"/>
<line x1="154.60" y1="446.50" x2="154.60" y2="449.50" stroke="#231f20" stroke-width="1"/>
<text transform="translate(154.50 459.30) scale(0.84 1)" font-size="8.8" text-anchor="middle" fill="#2b2b2b">10<tspan font-size="6.1" dy="-4.0">4</tspan></text>
<text transform="translate(104.60 472.00) scale(0.88 1)" font-size="8.4" text-anchor="middle" fill="#2b2b2b" font-weight="normal">Ab. conc. (nM)</text>
<polyline points="64.60,446.49 65.60,446.48 66.60,446.48 67.60,446.48 68.60,446.48 69.60,446.48 70.60,446.47 71.60,446.47 72.60,446.47 73.60,446.46 74.60,446.46 75.60,446.45 76.60,446.45 77.60,446.44 78.60,446.43 79.60,446.42 80.60,446.42 81.60,446.41 82.60,446.39 83.60,446.38 84.60,446.37 85.60,446.35 86.60,446.34 87.60,446.32 88.60,446.29 89.60,446.27 90.60,446.24 91.60,446.21 92.60,446.18 93.60,446.14 94.60,446.10 95.60,446.05 96.60,446.00 97.60,445.94 98.60,445.87 99.60,445.80 100.60,445.72 101.60,445.63 102.60,445.53 103.60,445.42 104.60,445.29 105.60,445.16 106.60,445.00 107.60,444.84 108.60,444.65 109.60,444.45 110.60,444.22 111.60,443.97 112.60,443.70 113.60,443.41 114.60,443.08 115.60,442.73 116.60,442.35 117.60,441.94 118.60,441.50 119.60,441.02 120.60,440.51 121.60,439.96 122.60,439.39 123.60,438.78 124.60,438.14 125.60,437.47 126.60,436.78 127.60,436.07 128.60,435.33 129.60,434.58 130.60,433.82 131.60,433.06 132.60,432.29 133.60,431.53 134.60,430.77 135.60,430.03 136.60,429.31 137.60,428.61 138.60,427.93 139.60,427.28 140.60,426.66 141.60,426.07 142.60,425.51 143.60,424.99 144.60,424.50 145.60,424.04 146.60,423.61 147.60,423.22 148.60,422.86 149.60,422.52 150.60,422.22 151.60,421.94 152.60,421.68" fill="none" stroke="#114c8e" stroke-width="1.35"/>
<circle cx="65.00" cy="446.50" r="1.6" fill="#114c8e"/>
<circle cx="74.75" cy="446.50" r="1.6" fill="#114c8e"/>
<circle cx="84.50" cy="446.50" r="1.6" fill="#114c8e"/>
<circle cx="94.25" cy="446.23" r="1.6" fill="#114c8e"/>
<circle cx="104.00" cy="445.69" r="1.6" fill="#114c8e"/>
<circle cx="113.75" cy="443.42" r="1.6" fill="#114c8e"/>
<circle cx="123.50" cy="438.93" r="1.6" fill="#114c8e"/>
<circle cx="133.25" cy="431.20" r="1.6" fill="#114c8e"/>
<line x1="143.00" y1="424.98" x2="143.00" y2="427.14" stroke="#114c8e" stroke-width="1.0"/>
<line x1="141.20" y1="424.98" x2="144.80" y2="424.98" stroke="#114c8e" stroke-width="1.0"/>
<line x1="141.20" y1="427.14" x2="144.80" y2="427.14" stroke="#114c8e" stroke-width="1.0"/>
<circle cx="143.00" cy="426.06" r="1.6" fill="#114c8e"/>
<line x1="152.75" y1="419.09" x2="152.75" y2="423.41" stroke="#114c8e" stroke-width="1.0"/>
<line x1="150.95" y1="419.09" x2="154.55" y2="419.09" stroke="#114c8e" stroke-width="1.0"/>
<line x1="150.95" y1="423.41" x2="154.55" y2="423.41" stroke="#114c8e" stroke-width="1.0"/>
<circle cx="152.75" cy="421.25" r="1.6" fill="#114c8e"/>
<polyline points="64.60,446.49 65.60,446.49 66.60,446.49 67.60,446.49 68.60,446.49 69.60,446.49 70.60,446.49 71.60,446.49 72.60,446.48 73.60,446.48 74.60,446.48 75.60,446.48 76.60,446.47 77.60,446.47 78.60,446.46 79.60,446.46 80.60,446.45 81.60,446.45 82.60,446.44 83.60,446.43 84.60,446.42 85.60,446.41 86.60,446.39 87.60,446.38 88.60,446.36 89.60,446.34 90.60,446.32 91.60,446.29 92.60,446.26 93.60,446.23 94.60,446.19 95.60,446.15 96.60,446.10 97.60,446.04 98.60,445.97 99.60,445.90 100.60,445.82 101.60,445.72 102.60,445.61 103.60,445.49 104.60,445.35 105.60,445.20 106.60,445.02 107.60,444.82 108.60,444.60 109.60,444.35 110.60,444.07 111.60,443.75 112.60,443.41 113.60,443.03 114.60,442.60 115.60,442.14 116.60,441.64 117.60,441.09 118.60,440.50 119.60,439.87 120.60,439.20 121.60,438.49 122.60,437.74 123.60,436.97 124.60,436.17 125.60,435.36 126.60,434.53 127.60,433.70 128.60,432.88 129.60,432.07 130.60,431.27 131.60,430.51 132.60,429.77 133.60,429.07 134.60,428.40 135.60,427.78 136.60,427.20 137.60,426.66 138.60,426.16 139.60,425.71 140.60,425.29 141.60,424.92 142.60,424.58 143.60,424.28 144.60,424.00 145.60,423.76 146.60,423.54 147.60,423.34 148.60,423.17 149.60,423.02 150.60,422.88 151.60,422.76 152.60,422.66" fill="none" stroke="#2aae43" stroke-width="1.35"/>
<circle cx="65.00" cy="446.50" r="1.6" fill="#2aae43"/>
<circle cx="74.75" cy="446.50" r="1.6" fill="#2aae43"/>
<circle cx="84.50" cy="446.50" r="1.6" fill="#2aae43"/>
<circle cx="94.25" cy="446.23" r="1.6" fill="#2aae43"/>
<circle cx="104.00" cy="445.42" r="1.6" fill="#2aae43"/>
<circle cx="113.75" cy="442.72" r="1.6" fill="#2aae43"/>
<circle cx="123.50" cy="437.20" r="1.6" fill="#2aae43"/>
<line x1="133.25" y1="428.39" x2="133.25" y2="430.55" stroke="#2aae43" stroke-width="1.0"/>
<line x1="131.45" y1="428.39" x2="135.05" y2="428.39" stroke="#2aae43" stroke-width="1.0"/>
<line x1="131.45" y1="430.55" x2="135.05" y2="430.55" stroke="#2aae43" stroke-width="1.0"/>
<circle cx="133.25" cy="429.47" r="1.6" fill="#2aae43"/>
<line x1="143.00" y1="422.76" x2="143.00" y2="424.93" stroke="#2aae43" stroke-width="1.0"/>
<line x1="141.20" y1="422.76" x2="144.80" y2="422.76" stroke="#2aae43" stroke-width="1.0"/>
<line x1="141.20" y1="424.93" x2="144.80" y2="424.93" stroke="#2aae43" stroke-width="1.0"/>
<circle cx="143.00" cy="423.85" r="1.6" fill="#2aae43"/>
<line x1="152.75" y1="421.36" x2="152.75" y2="424.60" stroke="#2aae43" stroke-width="1.0"/>
<line x1="150.95" y1="421.36" x2="154.55" y2="421.36" stroke="#2aae43" stroke-width="1.0"/>
<line x1="150.95" y1="424.60" x2="154.55" y2="424.60" stroke="#2aae43" stroke-width="1.0"/>
<circle cx="152.75" cy="422.98" r="1.6" fill="#2aae43"/>
<polyline points="64.60,446.35 65.60,446.33 66.60,446.32 67.60,446.30 68.60,446.28 69.60,446.25 70.60,446.23 71.60,446.20 72.60,446.17 73.60,446.14 74.60,446.10 75.60,446.06 76.60,446.01 77.60,445.96 78.60,445.91 79.60,445.85 80.60,445.78 81.60,445.71 82.60,445.63 83.60,445.54 84.60,445.44 85.60,445.34 86.60,445.22 87.60,445.09 88.60,444.95 89.60,444.80 90.60,444.63 91.60,444.44 92.60,444.24 93.60,444.01 94.60,443.77 95.60,443.50 96.60,443.21 97.60,442.89 98.60,442.55 99.60,442.17 100.60,441.76 101.60,441.32 102.60,440.83 103.60,440.31 104.60,439.75 105.60,439.14 106.60,438.48 107.60,437.78 108.60,437.03 109.60,436.22 110.60,435.36 111.60,434.45 112.60,433.48 113.60,432.46 114.60,431.38 115.60,430.25 116.60,429.07 117.60,427.84 118.60,426.57 119.60,425.25 120.60,423.90 121.60,422.51 122.60,421.10 123.60,419.66 124.60,418.22 125.60,416.76 126.60,415.31 127.60,413.86 128.60,412.43 129.60,411.02 130.60,409.63 131.60,408.28 132.60,406.96 133.60,405.68 134.60,404.45 135.60,403.27 136.60,402.14 137.60,401.07 138.60,400.04 139.60,399.08 140.60,398.16 141.60,397.30 142.60,396.50 143.60,395.75 144.60,395.04 145.60,394.39 146.60,393.78 147.60,393.22 148.60,392.69 149.60,392.21 150.60,391.77 151.60,391.36 152.60,390.98" fill="none" stroke="#c90a2c" stroke-width="1.35"/>
<circle cx="65.00" cy="446.50" r="1.6" fill="#c90a2c"/>
<circle cx="74.75" cy="446.01" r="1.6" fill="#c90a2c"/>
<circle cx="84.50" cy="444.50" r="1.6" fill="#c90a2c"/>
<circle cx="94.25" cy="442.28" r="1.6" fill="#c90a2c"/>
<line x1="104.00" y1="433.52" x2="104.00" y2="440.01" stroke="#c90a2c" stroke-width="1.0"/>
<line x1="102.20" y1="433.52" x2="105.80" y2="433.52" stroke="#c90a2c" stroke-width="1.0"/>
<line x1="102.20" y1="440.01" x2="105.80" y2="440.01" stroke="#c90a2c" stroke-width="1.0"/>
<circle cx="104.00" cy="436.77" r="1.6" fill="#c90a2c"/>
<line x1="113.75" y1="426.01" x2="113.75" y2="434.12" stroke="#c90a2c" stroke-width="1.0"/>
<line x1="111.95" y1="426.01" x2="115.55" y2="426.01" stroke="#c90a2c" stroke-width="1.0"/>
<line x1="111.95" y1="434.12" x2="115.55" y2="434.12" stroke="#c90a2c" stroke-width="1.0"/>
<circle cx="113.75" cy="430.06" r="1.6" fill="#c90a2c"/>
<line x1="123.50" y1="415.68" x2="123.50" y2="425.41" stroke="#c90a2c" stroke-width="1.0"/>
<line x1="121.70" y1="415.68" x2="125.30" y2="415.68" stroke="#c90a2c" stroke-width="1.0"/>
<line x1="121.70" y1="425.41" x2="125.30" y2="425.41" stroke="#c90a2c" stroke-width="1.0"/>
<circle cx="123.50" cy="420.55" r="1.6" fill="#c90a2c"/>
<line x1="133.25" y1="402.81" x2="133.25" y2="407.68" stroke="#c90a2c" stroke-width="1.0"/>
<line x1="131.45" y1="402.81" x2="135.05" y2="402.81" stroke="#c90a2c" stroke-width="1.0"/>
<line x1="131.45" y1="407.68" x2="135.05" y2="407.68" stroke="#c90a2c" stroke-width="1.0"/>
<circle cx="133.25" cy="405.25" r="1.6" fill="#c90a2c"/>
<line x1="143.00" y1="391.08" x2="143.00" y2="395.95" stroke="#c90a2c" stroke-width="1.0"/>
<line x1="141.20" y1="391.08" x2="144.80" y2="391.08" stroke="#c90a2c" stroke-width="1.0"/>
<line x1="141.20" y1="395.95" x2="144.80" y2="395.95" stroke="#c90a2c" stroke-width="1.0"/>
<circle cx="143.00" cy="393.51" r="1.6" fill="#c90a2c"/>
<circle cx="152.75" cy="390.27" r="1.6" fill="#c90a2c"/>
<line x1="58.80" y1="365.00" x2="67.80" y2="365.00" stroke="#c90a2c" stroke-width="1.3"/>
<circle cx="63.30" cy="365.00" r="1.5" fill="#c90a2c"/>
<text transform="translate(71.10 367.60) scale(0.87 1)" font-size="8.4" text-anchor="start" fill="#2b2b2b" font-weight="normal">SAR442085</text>
<line x1="58.80" y1="375.00" x2="67.80" y2="375.00" stroke="#114c8e" stroke-width="1.3"/>
<circle cx="63.30" cy="375.00" r="1.5" fill="#114c8e"/>
<text transform="translate(71.10 377.60) scale(0.87 1)" font-size="8.4" text-anchor="start" fill="#2b2b2b" font-weight="normal">Daratumumab</text>
<line x1="58.80" y1="385.00" x2="67.80" y2="385.00" stroke="#2aae43" stroke-width="1.3"/>
<circle cx="63.30" cy="385.00" r="1.5" fill="#2aae43"/>
<text transform="translate(71.10 387.60) scale(0.87 1)" font-size="8.4" text-anchor="start" fill="#2b2b2b" font-weight="normal">Isatuximab</text>
<text transform="translate(62.00 413.00) scale(0.92 1)" font-size="7.9" text-anchor="start" fill="#2b2b2b" font-weight="normal">n=2</text>
<text transform="translate(21.60 405.80) rotate(-90) scale(0.8 1)" font-size="9.3" text-anchor="middle" fill="#2b2b2b" font-weight="normal">MFI</text>
<text transform="translate(237.40 349.50) scale(1.01 1)" font-size="8.9" text-anchor="middle" fill="#2b2b2b" font-weight="normal">FcγRIIa-131R</text>
<line x1="219.50" y1="364.90" x2="219.50" y2="446.90" stroke="#231f20" stroke-width="1.1"/>
<line x1="216.50" y1="446.40" x2="219.50" y2="446.40" stroke="#231f20" stroke-width="1"/>
<text transform="translate(213.70 449.40) scale(0.84 1)" font-size="8.8" text-anchor="end" fill="#2b2b2b">10<tspan font-size="6.1" dy="-2.6">1</tspan></text>
<line x1="217.10" y1="438.27" x2="219.50" y2="438.27" stroke="#231f20" stroke-width="0.9"/>
<line x1="217.10" y1="433.52" x2="219.50" y2="433.52" stroke="#231f20" stroke-width="0.9"/>
<line x1="217.10" y1="430.14" x2="219.50" y2="430.14" stroke="#231f20" stroke-width="0.9"/>
<line x1="217.10" y1="427.53" x2="219.50" y2="427.53" stroke="#231f20" stroke-width="0.9"/>
<line x1="217.10" y1="425.39" x2="219.50" y2="425.39" stroke="#231f20" stroke-width="0.9"/>
<line x1="217.10" y1="423.58" x2="219.50" y2="423.58" stroke="#231f20" stroke-width="0.9"/>
<line x1="217.10" y1="422.02" x2="219.50" y2="422.02" stroke="#231f20" stroke-width="0.9"/>
<line x1="217.10" y1="420.64" x2="219.50" y2="420.64" stroke="#231f20" stroke-width="0.9"/>
<line x1="216.50" y1="419.40" x2="219.50" y2="419.40" stroke="#231f20" stroke-width="1"/>
<text transform="translate(213.70 422.40) scale(0.84 1)" font-size="8.8" text-anchor="end" fill="#2b2b2b">10<tspan font-size="6.1" dy="-2.6">2</tspan></text>
<line x1="217.10" y1="411.27" x2="219.50" y2="411.27" stroke="#231f20" stroke-width="0.9"/>
<line x1="217.10" y1="406.52" x2="219.50" y2="406.52" stroke="#231f20" stroke-width="0.9"/>
<line x1="217.10" y1="403.14" x2="219.50" y2="403.14" stroke="#231f20" stroke-width="0.9"/>
<line x1="217.10" y1="400.53" x2="219.50" y2="400.53" stroke="#231f20" stroke-width="0.9"/>
<line x1="217.10" y1="398.39" x2="219.50" y2="398.39" stroke="#231f20" stroke-width="0.9"/>
<line x1="217.10" y1="396.58" x2="219.50" y2="396.58" stroke="#231f20" stroke-width="0.9"/>
<line x1="217.10" y1="395.02" x2="219.50" y2="395.02" stroke="#231f20" stroke-width="0.9"/>
<line x1="217.10" y1="393.64" x2="219.50" y2="393.64" stroke="#231f20" stroke-width="0.9"/>
<line x1="216.50" y1="392.40" x2="219.50" y2="392.40" stroke="#231f20" stroke-width="1"/>
<text transform="translate(213.70 395.40) scale(0.84 1)" font-size="8.8" text-anchor="end" fill="#2b2b2b">10<tspan font-size="6.1" dy="-2.6">3</tspan></text>
<line x1="217.10" y1="384.27" x2="219.50" y2="384.27" stroke="#231f20" stroke-width="0.9"/>
<line x1="217.10" y1="379.52" x2="219.50" y2="379.52" stroke="#231f20" stroke-width="0.9"/>
<line x1="217.10" y1="376.14" x2="219.50" y2="376.14" stroke="#231f20" stroke-width="0.9"/>
<line x1="217.10" y1="373.53" x2="219.50" y2="373.53" stroke="#231f20" stroke-width="0.9"/>
<line x1="217.10" y1="371.39" x2="219.50" y2="371.39" stroke="#231f20" stroke-width="0.9"/>
<line x1="217.10" y1="369.58" x2="219.50" y2="369.58" stroke="#231f20" stroke-width="0.9"/>
<line x1="217.10" y1="368.02" x2="219.50" y2="368.02" stroke="#231f20" stroke-width="0.9"/>
<line x1="217.10" y1="366.64" x2="219.50" y2="366.64" stroke="#231f20" stroke-width="0.9"/>
<line x1="216.50" y1="365.40" x2="219.50" y2="365.40" stroke="#231f20" stroke-width="1"/>
<text transform="translate(213.70 368.40) scale(0.84 1)" font-size="8.8" text-anchor="end" fill="#2b2b2b">10<tspan font-size="6.1" dy="-2.6">4</tspan></text>
<line x1="219.00" y1="446.40" x2="270.30" y2="446.40" stroke="#231f20" stroke-width="1.1"/>
<line x1="229.70" y1="446.40" x2="229.70" y2="449.40" stroke="#231f20" stroke-width="1"/>
<text transform="translate(234.40 456.40) rotate(-45) scale(0.97 1)" font-size="7.9" text-anchor="end" fill="#2b2b2b" font-weight="normal">SAR442085</text>
<line x1="244.80" y1="446.40" x2="244.80" y2="449.40" stroke="#231f20" stroke-width="1"/>
<text transform="translate(249.50 456.40) rotate(-45) scale(1.04 1)" font-size="7.9" text-anchor="end" fill="#2b2b2b" font-weight="normal">Daratumumab</text>
<line x1="259.90" y1="446.40" x2="259.90" y2="449.40" stroke="#231f20" stroke-width="1"/>
<text transform="translate(264.60 456.40) rotate(-45) scale(1.01 1)" font-size="7.9" text-anchor="end" fill="#2b2b2b" font-weight="normal">Isatuximab</text>
<text transform="translate(195.50 406.00) rotate(-90) scale(0.83 1)" font-size="9.3" text-anchor="middle" fill="#2b2b2b">Apparent K<tspan font-size="6.32" dy="2">D</tspan><tspan dy="-2"> (nM)</tspan></text>
<line x1="224.70" y1="407.20" x2="234.70" y2="407.20" stroke="#4a4a4a" stroke-width="1"/>
<circle cx="229.70" cy="403.20" r="1.65" fill="#c90a2c"/>
<circle cx="229.70" cy="413.60" r="1.65" fill="#c90a2c"/>
<line x1="239.80" y1="397.90" x2="249.80" y2="397.90" stroke="#4a4a4a" stroke-width="1"/>
<circle cx="244.80" cy="395.00" r="1.65" fill="#114c8e"/>
<circle cx="244.80" cy="402.20" r="1.65" fill="#114c8e"/>
<line x1="254.90" y1="402.00" x2="264.90" y2="402.00" stroke="#4a4a4a" stroke-width="1"/>
<circle cx="259.90" cy="400.30" r="1.65" fill="#2aae43"/>
<circle cx="259.90" cy="403.90" r="1.65" fill="#2aae43"/>
<line x1="340.10" y1="364.60" x2="340.10" y2="446.40" stroke="#231f20" stroke-width="1.1"/>
<line x1="337.10" y1="445.90" x2="340.10" y2="445.90" stroke="#231f20" stroke-width="1"/>
<text transform="translate(333.90 448.80) scale(0.92 1)" font-size="8.4" text-anchor="end" fill="#2b2b2b" font-weight="normal">0</text>
<line x1="337.10" y1="418.97" x2="340.10" y2="418.97" stroke="#231f20" stroke-width="1"/>
<text transform="translate(333.90 421.87) scale(0.92 1)" font-size="8.4" text-anchor="end" fill="#2b2b2b" font-weight="normal">5000</text>
<line x1="337.10" y1="392.03" x2="340.10" y2="392.03" stroke="#231f20" stroke-width="1"/>
<text transform="translate(333.90 394.93) scale(0.92 1)" font-size="8.4" text-anchor="end" fill="#2b2b2b" font-weight="normal">10000</text>
<line x1="337.10" y1="365.10" x2="340.10" y2="365.10" stroke="#231f20" stroke-width="1"/>
<text transform="translate(333.90 368.00) scale(0.92 1)" font-size="8.4" text-anchor="end" fill="#2b2b2b" font-weight="normal">15000</text>
<line x1="339.60" y1="445.90" x2="391.20" y2="445.90" stroke="#231f20" stroke-width="1.1"/>
<line x1="350.10" y1="445.90" x2="350.10" y2="448.90" stroke="#231f20" stroke-width="1"/>
<text transform="translate(354.80 455.90) rotate(-45) scale(0.97 1)" font-size="7.9" text-anchor="end" fill="#2b2b2b" font-weight="normal">SAR442085</text>
<line x1="365.30" y1="445.90" x2="365.30" y2="448.90" stroke="#231f20" stroke-width="1"/>
<text transform="translate(370.00 455.90) rotate(-45) scale(1.04 1)" font-size="7.9" text-anchor="end" fill="#2b2b2b" font-weight="normal">Daratumumab</text>
<line x1="380.40" y1="445.90" x2="380.40" y2="448.90" stroke="#231f20" stroke-width="1"/>
<text transform="translate(385.10 455.90) rotate(-45) scale(1.01 1)" font-size="7.9" text-anchor="end" fill="#2b2b2b" font-weight="normal">Isatuximab</text>
<text transform="translate(307.50 406.00) rotate(-90) scale(0.8 1)" font-size="9.3" text-anchor="middle" fill="#2b2b2b" font-weight="normal">Bmax (MFI)</text>
<line x1="345.10" y1="387.80" x2="355.10" y2="387.80" stroke="#4a4a4a" stroke-width="1"/>
<circle cx="346.80" cy="389.20" r="1.65" fill="#c90a2c"/>
<circle cx="353.70" cy="386.70" r="1.65" fill="#c90a2c"/>
<line x1="360.30" y1="420.00" x2="370.30" y2="420.00" stroke="#4a4a4a" stroke-width="1"/>
<circle cx="365.30" cy="417.30" r="1.65" fill="#114c8e"/>
<circle cx="365.30" cy="422.30" r="1.65" fill="#114c8e"/>
<line x1="375.40" y1="420.50" x2="385.40" y2="420.50" stroke="#4a4a4a" stroke-width="1"/>
<circle cx="376.80" cy="420.50" r="1.65" fill="#2aae43"/>
<circle cx="384.00" cy="420.50" r="1.65" fill="#2aae43"/>
<line x1="54.60" y1="525.50" x2="54.60" y2="607.40" stroke="#231f20" stroke-width="1.1"/>
<line x1="51.60" y1="606.90" x2="54.60" y2="606.90" stroke="#231f20" stroke-width="1"/>
<text transform="translate(48.40 609.80) scale(0.92 1)" font-size="8.4" text-anchor="end" fill="#2b2b2b" font-weight="normal">0</text>
<line x1="51.60" y1="579.93" x2="54.60" y2="579.93" stroke="#231f20" stroke-width="1"/>
<text transform="translate(48.40 582.83) scale(0.92 1)" font-size="8.4" text-anchor="end" fill="#2b2b2b" font-weight="normal">5000</text>
<line x1="51.60" y1="552.97" x2="54.60" y2="552.97" stroke="#231f20" stroke-width="1"/>
<text transform="translate(48.40 555.87) scale(0.92 1)" font-size="8.4" text-anchor="end" fill="#2b2b2b" font-weight="normal">10000</text>
<line x1="51.60" y1="526.00" x2="54.60" y2="526.00" stroke="#231f20" stroke-width="1"/>
<text transform="translate(48.40 528.90) scale(0.92 1)" font-size="8.4" text-anchor="end" fill="#2b2b2b" font-weight="normal">15000</text>
<line x1="54.10" y1="606.90" x2="156.00" y2="606.90" stroke="#231f20" stroke-width="1.1"/>
<line x1="54.60" y1="606.90" x2="54.60" y2="609.90" stroke="#231f20" stroke-width="1"/>
<text transform="translate(54.50 619.70) scale(0.84 1)" font-size="8.8" text-anchor="middle" fill="#2b2b2b">10<tspan font-size="6.1" dy="-4.0">-1</tspan></text>
<line x1="60.62" y1="606.90" x2="60.62" y2="609.20" stroke="#231f20" stroke-width="1.0"/>
<line x1="64.14" y1="606.90" x2="64.14" y2="609.20" stroke="#231f20" stroke-width="1.0"/>
<line x1="66.64" y1="606.90" x2="66.64" y2="609.20" stroke="#231f20" stroke-width="1.0"/>
<line x1="68.58" y1="606.90" x2="68.58" y2="609.20" stroke="#231f20" stroke-width="1.0"/>
<line x1="70.16" y1="606.90" x2="70.16" y2="609.20" stroke="#231f20" stroke-width="1.0"/>
<line x1="71.50" y1="606.90" x2="71.50" y2="609.20" stroke="#231f20" stroke-width="1.0"/>
<line x1="72.66" y1="606.90" x2="72.66" y2="609.20" stroke="#231f20" stroke-width="1.0"/>
<line x1="73.68" y1="606.90" x2="73.68" y2="609.20" stroke="#231f20" stroke-width="1.0"/>
<line x1="74.60" y1="606.90" x2="74.60" y2="609.90" stroke="#231f20" stroke-width="1"/>
<text transform="translate(74.50 619.70) scale(0.84 1)" font-size="8.8" text-anchor="middle" fill="#2b2b2b">10<tspan font-size="6.1" dy="-4.0">0</tspan></text>
<line x1="80.62" y1="606.90" x2="80.62" y2="609.20" stroke="#231f20" stroke-width="1.0"/>
<line x1="84.14" y1="606.90" x2="84.14" y2="609.20" stroke="#231f20" stroke-width="1.0"/>
<line x1="86.64" y1="606.90" x2="86.64" y2="609.20" stroke="#231f20" stroke-width="1.0"/>
<line x1="88.58" y1="606.90" x2="88.58" y2="609.20" stroke="#231f20" stroke-width="1.0"/>
<line x1="90.16" y1="606.90" x2="90.16" y2="609.20" stroke="#231f20" stroke-width="1.0"/>
<line x1="91.50" y1="606.90" x2="91.50" y2="609.20" stroke="#231f20" stroke-width="1.0"/>
<line x1="92.66" y1="606.90" x2="92.66" y2="609.20" stroke="#231f20" stroke-width="1.0"/>
<line x1="93.68" y1="606.90" x2="93.68" y2="609.20" stroke="#231f20" stroke-width="1.0"/>
<line x1="94.60" y1="606.90" x2="94.60" y2="609.90" stroke="#231f20" stroke-width="1"/>
<text transform="translate(94.50 619.70) scale(0.84 1)" font-size="8.8" text-anchor="middle" fill="#2b2b2b">10<tspan font-size="6.1" dy="-4.0">1</tspan></text>
<line x1="100.62" y1="606.90" x2="100.62" y2="609.20" stroke="#231f20" stroke-width="1.0"/>
<line x1="104.14" y1="606.90" x2="104.14" y2="609.20" stroke="#231f20" stroke-width="1.0"/>
<line x1="106.64" y1="606.90" x2="106.64" y2="609.20" stroke="#231f20" stroke-width="1.0"/>
<line x1="108.58" y1="606.90" x2="108.58" y2="609.20" stroke="#231f20" stroke-width="1.0"/>
<line x1="110.16" y1="606.90" x2="110.16" y2="609.20" stroke="#231f20" stroke-width="1.0"/>
<line x1="111.50" y1="606.90" x2="111.50" y2="609.20" stroke="#231f20" stroke-width="1.0"/>
<line x1="112.66" y1="606.90" x2="112.66" y2="609.20" stroke="#231f20" stroke-width="1.0"/>
<line x1="113.68" y1="606.90" x2="113.68" y2="609.20" stroke="#231f20" stroke-width="1.0"/>
<line x1="114.60" y1="606.90" x2="114.60" y2="609.90" stroke="#231f20" stroke-width="1"/>
<text transform="translate(114.50 619.70) scale(0.84 1)" font-size="8.8" text-anchor="middle" fill="#2b2b2b">10<tspan font-size="6.1" dy="-4.0">2</tspan></text>
<line x1="120.62" y1="606.90" x2="120.62" y2="609.20" stroke="#231f20" stroke-width="1.0"/>
<line x1="124.14" y1="606.90" x2="124.14" y2="609.20" stroke="#231f20" stroke-width="1.0"/>
<line x1="126.64" y1="606.90" x2="126.64" y2="609.20" stroke="#231f20" stroke-width="1.0"/>
<line x1="128.58" y1="606.90" x2="128.58" y2="609.20" stroke="#231f20" stroke-width="1.0"/>
<line x1="130.16" y1="606.90" x2="130.16" y2="609.20" stroke="#231f20" stroke-width="1.0"/>
<line x1="131.50" y1="606.90" x2="131.50" y2="609.20" stroke="#231f20" stroke-width="1.0"/>
<line x1="132.66" y1="606.90" x2="132.66" y2="609.20" stroke="#231f20" stroke-width="1.0"/>
<line x1="133.68" y1="606.90" x2="133.68" y2="609.20" stroke="#231f20" stroke-width="1.0"/>
<line x1="134.60" y1="606.90" x2="134.60" y2="609.90" stroke="#231f20" stroke-width="1"/>
<text transform="translate(134.50 619.70) scale(0.84 1)" font-size="8.8" text-anchor="middle" fill="#2b2b2b">10<tspan font-size="6.1" dy="-4.0">3</tspan></text>
<line x1="140.62" y1="606.90" x2="140.62" y2="609.20" stroke="#231f20" stroke-width="1.0"/>
<line x1="144.14" y1="606.90" x2="144.14" y2="609.20" stroke="#231f20" stroke-width="1.0"/>
<line x1="146.64" y1="606.90" x2="146.64" y2="609.20" stroke="#231f20" stroke-width="1.0"/>
<line x1="148.58" y1="606.90" x2="148.58" y2="609.20" stroke="#231f20" stroke-width="1.0"/>
<line x1="150.16" y1="606.90" x2="150.16" y2="609.20" stroke="#231f20" stroke-width="1.0"/>
<line x1="151.50" y1="606.90" x2="151.50" y2="609.20" stroke="#231f20" stroke-width="1.0"/>
<line x1="152.66" y1="606.90" x2="152.66" y2="609.20" stroke="#231f20" stroke-width="1.0"/>
<line x1="153.68" y1="606.90" x2="153.68" y2="609.20" stroke="#231f20" stroke-width="1.0"/>
<line x1="154.60" y1="606.90" x2="154.60" y2="609.90" stroke="#231f20" stroke-width="1"/>
<text transform="translate(154.50 619.70) scale(0.84 1)" font-size="8.8" text-anchor="middle" fill="#2b2b2b">10<tspan font-size="6.1" dy="-4.0">4</tspan></text>
<text transform="translate(104.60 633.00) scale(0.88 1)" font-size="8.4" text-anchor="middle" fill="#2b2b2b" font-weight="normal">Ab. conc. (nM)</text>
<polyline points="64.60,606.89 65.60,606.89 66.60,606.89 67.60,606.88 68.60,606.88 69.60,606.88 70.60,606.88 71.60,606.87 72.60,606.87 73.60,606.87 74.60,606.86 75.60,606.86 76.60,606.85 77.60,606.85 78.60,606.84 79.60,606.84 80.60,606.83 81.60,606.82 82.60,606.81 83.60,606.80 84.60,606.78 85.60,606.77 86.60,606.75 87.60,606.74 88.60,606.72 89.60,606.69 90.60,606.67 91.60,606.64 92.60,606.61 93.60,606.57 94.60,606.53 95.60,606.49 96.60,606.44 97.60,606.38 98.60,606.32 99.60,606.25 100.60,606.17 101.60,606.08 102.60,605.99 103.60,605.88 104.60,605.76 105.60,605.63 106.60,605.49 107.60,605.33 108.60,605.16 109.60,604.97 110.60,604.76 111.60,604.54 112.60,604.29 113.60,604.03 114.60,603.74 115.60,603.44 116.60,603.11 117.60,602.77 118.60,602.40 119.60,602.02 120.60,601.62 121.60,601.20 122.60,600.77 123.60,600.33 124.60,599.89 125.60,599.43 126.60,598.98 127.60,598.53 128.60,598.08 129.60,597.64 130.60,597.20 131.60,596.79 132.60,596.38 133.60,595.99 134.60,595.63 135.60,595.28 136.60,594.95 137.60,594.64 138.60,594.35 139.60,594.08 140.60,593.83 141.60,593.60 142.60,593.39 143.60,593.20 144.60,593.02 145.60,592.86 146.60,592.71 147.60,592.58 148.60,592.46 149.60,592.35 150.60,592.26 151.60,592.17 152.60,592.09" fill="none" stroke="#114c8e" stroke-width="1.35"/>
<circle cx="65.00" cy="606.90" r="1.6" fill="#114c8e"/>
<circle cx="74.75" cy="606.90" r="1.6" fill="#114c8e"/>
<circle cx="84.50" cy="606.90" r="1.6" fill="#114c8e"/>
<circle cx="94.25" cy="606.90" r="1.6" fill="#114c8e"/>
<circle cx="104.00" cy="605.82" r="1.6" fill="#114c8e"/>
<circle cx="113.75" cy="604.20" r="1.6" fill="#114c8e"/>
<circle cx="123.50" cy="599.83" r="1.6" fill="#114c8e"/>
<circle cx="133.25" cy="596.54" r="1.6" fill="#114c8e"/>
<circle cx="143.00" cy="593.15" r="1.6" fill="#114c8e"/>
<circle cx="152.75" cy="592.01" r="1.6" fill="#114c8e"/>
<polyline points="64.60,606.90 65.60,606.90 66.60,606.90 67.60,606.90 68.60,606.90 69.60,606.89 70.60,606.89 71.60,606.89 72.60,606.89 73.60,606.89 74.60,606.89 75.60,606.89 76.60,606.88 77.60,606.88 78.60,606.88 79.60,606.88 80.60,606.87 81.60,606.87 82.60,606.86 83.60,606.86 84.60,606.85 85.60,606.84 86.60,606.83 87.60,606.82 88.60,606.81 89.60,606.79 90.60,606.78 91.60,606.76 92.60,606.73 93.60,606.71 94.60,606.68 95.60,606.64 96.60,606.60 97.60,606.55 98.60,606.50 99.60,606.44 100.60,606.37 101.60,606.29 102.60,606.20 103.60,606.09 104.60,605.97 105.60,605.83 106.60,605.67 107.60,605.50 108.60,605.30 109.60,605.07 110.60,604.82 111.60,604.54 112.60,604.24 113.60,603.90 114.60,603.52 115.60,603.12 116.60,602.68 117.60,602.22 118.60,601.72 119.60,601.21 120.60,600.67 121.60,600.12 122.60,599.55 123.60,598.99 124.60,598.42 125.60,597.87 126.60,597.33 127.60,596.81 128.60,596.31 129.60,595.84 130.60,595.40 131.60,594.98 132.60,594.61 133.60,594.26 134.60,593.94 135.60,593.66 136.60,593.40 137.60,593.17 138.60,592.97 139.60,592.79 140.60,592.63 141.60,592.49 142.60,592.36 143.60,592.25 144.60,592.16 145.60,592.08 146.60,592.00 147.60,591.94 148.60,591.88 149.60,591.84 150.60,591.80 151.60,591.76 152.60,591.73" fill="none" stroke="#2aae43" stroke-width="1.35"/>
<circle cx="65.00" cy="606.90" r="1.6" fill="#2aae43"/>
<circle cx="74.75" cy="606.90" r="1.6" fill="#2aae43"/>
<circle cx="84.50" cy="606.90" r="1.6" fill="#2aae43"/>
<circle cx="94.25" cy="606.90" r="1.6" fill="#2aae43"/>
<circle cx="104.00" cy="605.55" r="1.6" fill="#2aae43"/>
<circle cx="113.75" cy="603.66" r="1.6" fill="#2aae43"/>
<circle cx="123.50" cy="599.35" r="1.6" fill="#2aae43"/>
<line x1="133.25" y1="592.61" x2="133.25" y2="595.84" stroke="#2aae43" stroke-width="1.0"/>
<line x1="131.45" y1="592.61" x2="135.05" y2="592.61" stroke="#2aae43" stroke-width="1.0"/>
<line x1="131.45" y1="595.84" x2="135.05" y2="595.84" stroke="#2aae43" stroke-width="1.0"/>
<circle cx="133.25" cy="594.23" r="1.6" fill="#2aae43"/>
<line x1="143.00" y1="590.02" x2="143.00" y2="593.25" stroke="#2aae43" stroke-width="1.0"/>
<line x1="141.20" y1="590.02" x2="144.80" y2="590.02" stroke="#2aae43" stroke-width="1.0"/>
<line x1="141.20" y1="593.25" x2="144.80" y2="593.25" stroke="#2aae43" stroke-width="1.0"/>
<circle cx="143.00" cy="591.64" r="1.6" fill="#2aae43"/>
<line x1="152.75" y1="590.72" x2="152.75" y2="593.96" stroke="#2aae43" stroke-width="1.0"/>
<line x1="150.95" y1="590.72" x2="154.55" y2="590.72" stroke="#2aae43" stroke-width="1.0"/>
<line x1="150.95" y1="593.96" x2="154.55" y2="593.96" stroke="#2aae43" stroke-width="1.0"/>
<circle cx="152.75" cy="592.34" r="1.6" fill="#2aae43"/>
<polyline points="64.60,606.65 65.60,606.63 66.60,606.60 67.60,606.58 68.60,606.54 69.60,606.51 70.60,606.47 71.60,606.43 72.60,606.39 73.60,606.34 74.60,606.28 75.60,606.23 76.60,606.16 77.60,606.09 78.60,606.02 79.60,605.93 80.60,605.84 81.60,605.74 82.60,605.63 83.60,605.51 84.60,605.38 85.60,605.24 86.60,605.09 87.60,604.92 88.60,604.73 89.60,604.54 90.60,604.32 91.60,604.08 92.60,603.83 93.60,603.55 94.60,603.25 95.60,602.92 96.60,602.57 97.60,602.19 98.60,601.78 99.60,601.34 100.60,600.87 101.60,600.36 102.60,599.82 103.60,599.23 104.60,598.61 105.60,597.95 106.60,597.25 107.60,596.51 108.60,595.72 109.60,594.89 110.60,594.02 111.60,593.11 112.60,592.16 113.60,591.17 114.60,590.14 115.60,589.08 116.60,587.99 117.60,586.87 118.60,585.73 119.60,584.57 120.60,583.39 121.60,582.20 122.60,581.01 123.60,579.82 124.60,578.63 125.60,577.46 126.60,576.30 127.60,575.15 128.60,574.04 129.60,572.94 130.60,571.88 131.60,570.86 132.60,569.87 133.60,568.92 134.60,568.00 135.60,567.13 136.60,566.30 137.60,565.52 138.60,564.77 139.60,564.07 140.60,563.41 141.60,562.79 142.60,562.21 143.60,561.66 144.60,561.15 145.60,560.68 146.60,560.24 147.60,559.83 148.60,559.45 149.60,559.10 150.60,558.77 151.60,558.47 152.60,558.20" fill="none" stroke="#c90a2c" stroke-width="1.35"/>
<circle cx="65.00" cy="606.90" r="1.6" fill="#c90a2c"/>
<circle cx="74.75" cy="606.36" r="1.6" fill="#c90a2c"/>
<circle cx="84.50" cy="604.58" r="1.6" fill="#c90a2c"/>
<circle cx="94.25" cy="600.91" r="1.6" fill="#c90a2c"/>
<line x1="104.00" y1="594.50" x2="104.00" y2="599.35" stroke="#c90a2c" stroke-width="1.0"/>
<line x1="102.20" y1="594.50" x2="105.80" y2="594.50" stroke="#c90a2c" stroke-width="1.0"/>
<line x1="102.20" y1="599.35" x2="105.80" y2="599.35" stroke="#c90a2c" stroke-width="1.0"/>
<circle cx="104.00" cy="596.92" r="1.6" fill="#c90a2c"/>
<line x1="113.75" y1="587.38" x2="113.75" y2="593.31" stroke="#c90a2c" stroke-width="1.0"/>
<line x1="111.95" y1="587.38" x2="115.55" y2="587.38" stroke="#c90a2c" stroke-width="1.0"/>
<line x1="111.95" y1="593.31" x2="115.55" y2="593.31" stroke="#c90a2c" stroke-width="1.0"/>
<circle cx="113.75" cy="590.34" r="1.6" fill="#c90a2c"/>
<line x1="123.50" y1="575.89" x2="123.50" y2="583.98" stroke="#c90a2c" stroke-width="1.0"/>
<line x1="121.70" y1="575.89" x2="125.30" y2="575.89" stroke="#c90a2c" stroke-width="1.0"/>
<line x1="121.70" y1="583.98" x2="125.30" y2="583.98" stroke="#c90a2c" stroke-width="1.0"/>
<circle cx="123.50" cy="579.93" r="1.6" fill="#c90a2c"/>
<line x1="133.25" y1="564.40" x2="133.25" y2="572.49" stroke="#c90a2c" stroke-width="1.0"/>
<line x1="131.45" y1="564.40" x2="135.05" y2="564.40" stroke="#c90a2c" stroke-width="1.0"/>
<line x1="131.45" y1="572.49" x2="135.05" y2="572.49" stroke="#c90a2c" stroke-width="1.0"/>
<circle cx="133.25" cy="568.45" r="1.6" fill="#c90a2c"/>
<line x1="143.00" y1="556.63" x2="143.00" y2="564.72" stroke="#c90a2c" stroke-width="1.0"/>
<line x1="141.20" y1="556.63" x2="144.80" y2="556.63" stroke="#c90a2c" stroke-width="1.0"/>
<line x1="141.20" y1="564.72" x2="144.80" y2="564.72" stroke="#c90a2c" stroke-width="1.0"/>
<circle cx="143.00" cy="560.68" r="1.6" fill="#c90a2c"/>
<line x1="152.75" y1="556.04" x2="152.75" y2="560.89" stroke="#c90a2c" stroke-width="1.0"/>
<line x1="150.95" y1="556.04" x2="154.55" y2="556.04" stroke="#c90a2c" stroke-width="1.0"/>
<line x1="150.95" y1="560.89" x2="154.55" y2="560.89" stroke="#c90a2c" stroke-width="1.0"/>
<circle cx="152.75" cy="558.47" r="1.6" fill="#c90a2c"/>
<line x1="58.80" y1="525.60" x2="67.80" y2="525.60" stroke="#c90a2c" stroke-width="1.3"/>
<circle cx="63.30" cy="525.60" r="1.5" fill="#c90a2c"/>
<text transform="translate(71.10 528.20) scale(0.87 1)" font-size="8.4" text-anchor="start" fill="#2b2b2b" font-weight="normal">SAR442085</text>
<line x1="58.80" y1="535.60" x2="67.80" y2="535.60" stroke="#114c8e" stroke-width="1.3"/>
<circle cx="63.30" cy="535.60" r="1.5" fill="#114c8e"/>
<text transform="translate(71.10 538.20) scale(0.87 1)" font-size="8.4" text-anchor="start" fill="#2b2b2b" font-weight="normal">Daratumumab</text>
<line x1="58.80" y1="545.60" x2="67.80" y2="545.60" stroke="#2aae43" stroke-width="1.3"/>
<circle cx="63.30" cy="545.60" r="1.5" fill="#2aae43"/>
<text transform="translate(71.10 548.20) scale(0.87 1)" font-size="8.4" text-anchor="start" fill="#2b2b2b" font-weight="normal">Isatuximab</text>
<text transform="translate(62.00 573.50) scale(0.92 1)" font-size="7.9" text-anchor="start" fill="#2b2b2b" font-weight="normal">n=3</text>
<text transform="translate(21.60 567.70) rotate(-90) scale(0.8 1)" font-size="9.3" text-anchor="middle" fill="#2b2b2b" font-weight="normal">MFI</text>
<text transform="translate(237.80 511.80) scale(1.01 1)" font-size="8.9" text-anchor="middle" fill="#2b2b2b" font-weight="normal">FcγRIIa-131H</text>
<line x1="219.40" y1="525.60" x2="219.40" y2="607.90" stroke="#231f20" stroke-width="1.1"/>
<line x1="216.40" y1="607.40" x2="219.40" y2="607.40" stroke="#231f20" stroke-width="1"/>
<text transform="translate(213.60 610.40) scale(0.84 1)" font-size="8.8" text-anchor="end" fill="#2b2b2b">10<tspan font-size="6.1" dy="-2.6">1</tspan></text>
<line x1="217.00" y1="599.24" x2="219.40" y2="599.24" stroke="#231f20" stroke-width="0.9"/>
<line x1="217.00" y1="594.47" x2="219.40" y2="594.47" stroke="#231f20" stroke-width="0.9"/>
<line x1="217.00" y1="591.08" x2="219.40" y2="591.08" stroke="#231f20" stroke-width="0.9"/>
<line x1="217.00" y1="588.46" x2="219.40" y2="588.46" stroke="#231f20" stroke-width="0.9"/>
<line x1="217.00" y1="586.31" x2="219.40" y2="586.31" stroke="#231f20" stroke-width="0.9"/>
<line x1="217.00" y1="584.50" x2="219.40" y2="584.50" stroke="#231f20" stroke-width="0.9"/>
<line x1="217.00" y1="582.93" x2="219.40" y2="582.93" stroke="#231f20" stroke-width="0.9"/>
<line x1="217.00" y1="581.54" x2="219.40" y2="581.54" stroke="#231f20" stroke-width="0.9"/>
<line x1="216.40" y1="580.30" x2="219.40" y2="580.30" stroke="#231f20" stroke-width="1"/>
<text transform="translate(213.60 583.30) scale(0.84 1)" font-size="8.8" text-anchor="end" fill="#2b2b2b">10<tspan font-size="6.1" dy="-2.6">2</tspan></text>
<line x1="217.00" y1="572.14" x2="219.40" y2="572.14" stroke="#231f20" stroke-width="0.9"/>
<line x1="217.00" y1="567.37" x2="219.40" y2="567.37" stroke="#231f20" stroke-width="0.9"/>
<line x1="217.00" y1="563.98" x2="219.40" y2="563.98" stroke="#231f20" stroke-width="0.9"/>
<line x1="217.00" y1="561.36" x2="219.40" y2="561.36" stroke="#231f20" stroke-width="0.9"/>
<line x1="217.00" y1="559.21" x2="219.40" y2="559.21" stroke="#231f20" stroke-width="0.9"/>
<line x1="217.00" y1="557.40" x2="219.40" y2="557.40" stroke="#231f20" stroke-width="0.9"/>
<line x1="217.00" y1="555.83" x2="219.40" y2="555.83" stroke="#231f20" stroke-width="0.9"/>
<line x1="217.00" y1="554.44" x2="219.40" y2="554.44" stroke="#231f20" stroke-width="0.9"/>
<line x1="216.40" y1="553.20" x2="219.40" y2="553.20" stroke="#231f20" stroke-width="1"/>
<text transform="translate(213.60 556.20) scale(0.84 1)" font-size="8.8" text-anchor="end" fill="#2b2b2b">10<tspan font-size="6.1" dy="-2.6">3</tspan></text>
<line x1="217.00" y1="545.04" x2="219.40" y2="545.04" stroke="#231f20" stroke-width="0.9"/>
<line x1="217.00" y1="540.27" x2="219.40" y2="540.27" stroke="#231f20" stroke-width="0.9"/>
<line x1="217.00" y1="536.88" x2="219.40" y2="536.88" stroke="#231f20" stroke-width="0.9"/>
<line x1="217.00" y1="534.26" x2="219.40" y2="534.26" stroke="#231f20" stroke-width="0.9"/>
<line x1="217.00" y1="532.11" x2="219.40" y2="532.11" stroke="#231f20" stroke-width="0.9"/>
<line x1="217.00" y1="530.30" x2="219.40" y2="530.30" stroke="#231f20" stroke-width="0.9"/>
<line x1="217.00" y1="528.73" x2="219.40" y2="528.73" stroke="#231f20" stroke-width="0.9"/>
<line x1="217.00" y1="527.34" x2="219.40" y2="527.34" stroke="#231f20" stroke-width="0.9"/>
<line x1="216.40" y1="526.10" x2="219.40" y2="526.10" stroke="#231f20" stroke-width="1"/>
<text transform="translate(213.60 529.10) scale(0.84 1)" font-size="8.8" text-anchor="end" fill="#2b2b2b">10<tspan font-size="6.1" dy="-2.6">4</tspan></text>
<line x1="218.90" y1="607.40" x2="269.60" y2="607.40" stroke="#231f20" stroke-width="1.1"/>
<line x1="229.60" y1="607.40" x2="229.60" y2="610.40" stroke="#231f20" stroke-width="1"/>
<text transform="translate(234.30 617.40) rotate(-45) scale(0.97 1)" font-size="7.9" text-anchor="end" fill="#2b2b2b" font-weight="normal">SAR442085</text>
<line x1="244.60" y1="607.40" x2="244.60" y2="610.40" stroke="#231f20" stroke-width="1"/>
<text transform="translate(249.30 617.40) rotate(-45) scale(1.04 1)" font-size="7.9" text-anchor="end" fill="#2b2b2b" font-weight="normal">Daratumumab</text>
<line x1="259.50" y1="607.40" x2="259.50" y2="610.40" stroke="#231f20" stroke-width="1"/>
<text transform="translate(264.20 617.40) rotate(-45) scale(1.01 1)" font-size="7.9" text-anchor="end" fill="#2b2b2b" font-weight="normal">Isatuximab</text>
<text transform="translate(195.50 566.00) rotate(-90) scale(0.83 1)" font-size="9.3" text-anchor="middle" fill="#2b2b2b">Apparent K<tspan font-size="6.32" dy="2">D</tspan><tspan dy="-2"> (nM)</tspan></text>
<line x1="229.60" y1="535.30" x2="259.80" y2="535.30" stroke="#666" stroke-width="1.0"/>
<text transform="translate(245.00 533.70) scale(0.95 1)" font-size="7.4" text-anchor="middle" fill="#2b2b2b" font-weight="normal">ns</text>
<line x1="229.60" y1="552.80" x2="244.60" y2="552.80" stroke="#666" stroke-width="1.0"/>
<text transform="translate(237.40 551.20) scale(0.95 1)" font-size="7.4" text-anchor="middle" fill="#2b2b2b" font-weight="normal">ns</text>
<line x1="224.60" y1="572.40" x2="234.60" y2="572.40" stroke="#4a4a4a" stroke-width="1"/>
<circle cx="229.60" cy="568.40" r="1.65" fill="#c90a2c"/>
<circle cx="229.60" cy="572.80" r="1.65" fill="#c90a2c"/>
<circle cx="229.60" cy="578.50" r="1.65" fill="#c90a2c"/>
<line x1="239.60" y1="563.50" x2="249.60" y2="563.50" stroke="#4a4a4a" stroke-width="1"/>
<circle cx="241.40" cy="564.60" r="1.65" fill="#114c8e"/>
<circle cx="244.60" cy="562.10" r="1.65" fill="#114c8e"/>
<circle cx="248.00" cy="563.50" r="1.65" fill="#114c8e"/>
<line x1="254.50" y1="566.50" x2="264.50" y2="566.50" stroke="#4a4a4a" stroke-width="1"/>
<circle cx="256.10" cy="567.20" r="1.65" fill="#2aae43"/>
<circle cx="259.50" cy="565.00" r="1.65" fill="#2aae43"/>
<circle cx="263.00" cy="567.20" r="1.65" fill="#2aae43"/>
<line x1="340.30" y1="525.50" x2="340.30" y2="607.90" stroke="#231f20" stroke-width="1.1"/>
<line x1="337.30" y1="607.40" x2="340.30" y2="607.40" stroke="#231f20" stroke-width="1"/>
<text transform="translate(334.10 610.30) scale(0.92 1)" font-size="8.4" text-anchor="end" fill="#2b2b2b" font-weight="normal">0</text>
<line x1="337.30" y1="587.05" x2="340.30" y2="587.05" stroke="#231f20" stroke-width="1"/>
<text transform="translate(334.10 589.95) scale(0.92 1)" font-size="8.4" text-anchor="end" fill="#2b2b2b" font-weight="normal">5000</text>
<line x1="337.30" y1="566.70" x2="340.30" y2="566.70" stroke="#231f20" stroke-width="1"/>
<text transform="translate(334.10 569.60) scale(0.92 1)" font-size="8.4" text-anchor="end" fill="#2b2b2b" font-weight="normal">10000</text>
<line x1="337.30" y1="546.35" x2="340.30" y2="546.35" stroke="#231f20" stroke-width="1"/>
<text transform="translate(334.10 549.25) scale(0.92 1)" font-size="8.4" text-anchor="end" fill="#2b2b2b" font-weight="normal">15000</text>
<line x1="337.30" y1="526.00" x2="340.30" y2="526.00" stroke="#231f20" stroke-width="1"/>
<text transform="translate(334.10 528.90) scale(0.92 1)" font-size="8.4" text-anchor="end" fill="#2b2b2b" font-weight="normal">20000</text>
<line x1="339.80" y1="607.40" x2="390.60" y2="607.40" stroke="#231f20" stroke-width="1.1"/>
<line x1="350.30" y1="607.40" x2="350.30" y2="610.40" stroke="#231f20" stroke-width="1"/>
<text transform="translate(355.00 617.40) rotate(-45) scale(0.97 1)" font-size="7.9" text-anchor="end" fill="#2b2b2b" font-weight="normal">SAR442085</text>
<line x1="365.30" y1="607.40" x2="365.30" y2="610.40" stroke="#231f20" stroke-width="1"/>
<text transform="translate(370.00 617.40) rotate(-45) scale(1.04 1)" font-size="7.9" text-anchor="end" fill="#2b2b2b" font-weight="normal">Daratumumab</text>
<line x1="380.30" y1="607.40" x2="380.30" y2="610.40" stroke="#231f20" stroke-width="1"/>
<text transform="translate(385.00 617.40) rotate(-45) scale(1.01 1)" font-size="7.9" text-anchor="end" fill="#2b2b2b" font-weight="normal">Isatuximab</text>
<text transform="translate(307.50 567.00) rotate(-90) scale(0.8 1)" font-size="9.3" text-anchor="middle" fill="#2b2b2b" font-weight="normal">Bmax (MFI)</text>
<line x1="350.30" y1="538.80" x2="380.30" y2="538.80" stroke="#666" stroke-width="1.0"/>
<polygon points="361.05,531.90 361.58,533.27 363.05,533.35 361.91,534.28 362.28,535.70 361.05,534.90 359.82,535.70 360.19,534.28 359.05,533.35 360.52,533.27" fill="#1e1e1e"/>
<polygon points="365.30,531.90 365.83,533.27 367.30,533.35 366.16,534.28 366.53,535.70 365.30,534.90 364.07,535.70 364.44,534.28 363.30,533.35 364.77,533.27" fill="#1e1e1e"/>
<polygon points="369.55,531.90 370.08,533.27 371.55,533.35 370.41,534.28 370.78,535.70 369.55,534.90 368.32,535.70 368.69,534.28 367.55,533.35 369.02,533.27" fill="#1e1e1e"/>
<line x1="350.30" y1="556.20" x2="365.30" y2="556.20" stroke="#666" stroke-width="1.0"/>
<polygon points="353.55,549.30 354.08,550.67 355.55,550.75 354.41,551.68 354.78,553.10 353.55,552.30 352.32,553.10 352.69,551.68 351.55,550.75 353.02,550.67" fill="#1e1e1e"/>
<polygon points="357.80,549.30 358.33,550.67 359.80,550.75 358.66,551.68 359.03,553.10 357.80,552.30 356.57,553.10 356.94,551.68 355.80,550.75 357.27,550.67" fill="#1e1e1e"/>
<polygon points="362.05,549.30 362.58,550.67 364.05,550.75 362.91,551.68 363.28,553.10 362.05,552.30 360.82,553.10 361.19,551.68 360.05,550.75 361.52,550.67" fill="#1e1e1e"/>
<line x1="345.30" y1="570.40" x2="355.30" y2="570.40" stroke="#4a4a4a" stroke-width="1"/>
<circle cx="350.30" cy="566.00" r="1.65" fill="#c90a2c"/>
<circle cx="346.90" cy="573.50" r="1.65" fill="#c90a2c"/>
<circle cx="353.50" cy="571.60" r="1.65" fill="#c90a2c"/>
<line x1="360.30" y1="595.60" x2="370.30" y2="595.60" stroke="#4a4a4a" stroke-width="1"/>
<circle cx="361.60" cy="593.40" r="1.65" fill="#114c8e"/>
<circle cx="368.50" cy="593.40" r="1.65" fill="#114c8e"/>
<circle cx="365.30" cy="599.10" r="1.65" fill="#114c8e"/>
<line x1="375.30" y1="595.40" x2="385.30" y2="595.40" stroke="#4a4a4a" stroke-width="1"/>
<circle cx="377.10" cy="592.50" r="1.65" fill="#2aae43"/>
<circle cx="384.00" cy="594.40" r="1.65" fill="#2aae43"/>
<circle cx="380.40" cy="599.10" r="1.65" fill="#2aae43"/>
<rect x="0.5" y="0.5" width="519" height="659" fill="none" stroke="#231f20" stroke-width="1.2"/>
</svg></body></html>
